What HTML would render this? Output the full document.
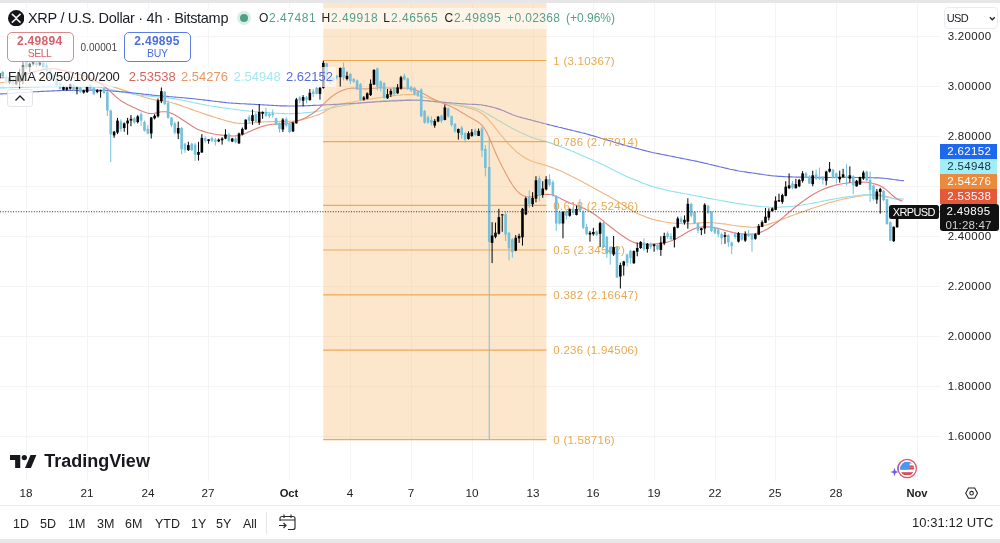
<!DOCTYPE html>
<html><head><meta charset="utf-8"><title>XRPUSD</title>
<style>
*{box-sizing:border-box;margin:0;padding:0}
html,body{width:1000px;height:543px;overflow:hidden;background:#fff}
body{font-family:"Liberation Sans",sans-serif;color:#131722;position:relative}
.abs{position:absolute}
.topbar{left:0;top:0;width:1000px;height:3.3px;background:#e6e6e8}
.botbar{left:0;top:539px;width:1000px;height:4px;background:#e8e8ea}
.plabel{position:absolute;left:940px;width:56.5px;height:14.5px;font-size:11.5px;line-height:14.5px;text-align:center;letter-spacing:.35px;padding-left:2px}
.ptick{position:absolute;left:941px;width:57px;font-size:11.5px;line-height:14px;text-align:center;color:#222;letter-spacing:.3px}
.tt{position:absolute;top:486.4px;font-size:11.7px;line-height:14px;color:#222;transform:translateX(-50%);white-space:nowrap}
.fib{position:absolute;left:553px;font-size:11.5px;line-height:13px;color:#e8a94f;white-space:nowrap;letter-spacing:.25px}
.ohlc{top:11px;font-size:12px;line-height:14px;white-space:nowrap;letter-spacing:.37px}
.ev{position:absolute;top:0}
.rb{position:absolute;top:516.8px;font-size:12.5px;line-height:15px;color:#222;white-space:nowrap}
#wrap{position:absolute;left:0;top:0;width:1000px;height:543px;will-change:transform;transform:translateZ(0)}
</style></head><body><div id="wrap">
<svg width="1000" height="543" viewBox="0 0 1000 543" style="position:absolute;left:0;top:0">
<g stroke="#f4f4f6" stroke-width="1"><line x1="0" x2="940" y1="36.5" y2="36.5"/><line x1="0" x2="940" y1="86.5" y2="86.5"/><line x1="0" x2="940" y1="136.5" y2="136.5"/><line x1="0" x2="940" y1="186.5" y2="186.5"/><line x1="0" x2="940" y1="236.5" y2="236.5"/><line x1="0" x2="940" y1="286.5" y2="286.5"/><line x1="0" x2="940" y1="336.5" y2="336.5"/><line x1="0" x2="940" y1="386.5" y2="386.5"/><line x1="0" x2="940" y1="436.5" y2="436.5"/><line y1="3" y2="481" x1="26.5" x2="26.5"/><line y1="3" y2="481" x1="87.5" x2="87.5"/><line y1="3" y2="481" x1="148.5" x2="148.5"/><line y1="3" y2="481" x1="208.5" x2="208.5"/><line y1="3" y2="481" x1="289.5" x2="289.5"/><line y1="3" y2="481" x1="350.5" x2="350.5"/><line y1="3" y2="481" x1="411.5" x2="411.5"/><line y1="3" y2="481" x1="472.5" x2="472.5"/><line y1="3" y2="481" x1="533.5" x2="533.5"/><line y1="3" y2="481" x1="593.5" x2="593.5"/><line y1="3" y2="481" x1="654.5" x2="654.5"/><line y1="3" y2="481" x1="715.5" x2="715.5"/><line y1="3" y2="481" x1="775.5" x2="775.5"/><line y1="3" y2="481" x1="836.5" x2="836.5"/><line y1="3" y2="481" x1="917.5" x2="917.5"/></g>
<g fill="none" stroke-width="1.15" stroke-linejoin="round">
<path d="M-2.0 82.8 L-0.5 82.8 L1.0 82.7 L2.5 82.5 L4.0 82.4 L5.5 82.3 L7.0 82.2 L8.5 82.0 L10.0 81.9 L11.5 81.7 L13.0 81.6 L14.5 81.5 L16.0 81.3 L17.5 81.2 L19.0 81.0 L20.5 80.9 L22.0 80.7 L23.5 80.6 L25.0 80.5 L26.5 80.3 L28.0 80.2 L29.5 80.0 L31.0 79.8 L32.5 79.7 L34.0 79.5 L35.5 79.3 L37.0 79.2 L38.5 79.0 L40.0 78.8 L41.5 78.6 L43.0 78.4 L44.5 78.3 L46.0 78.1 L47.5 77.9 L49.0 77.7 L50.5 77.6 L52.0 77.5 L53.5 77.4 L55.0 77.3 L56.5 77.2 L58.0 77.2 L59.5 77.2 L61.0 77.3 L62.5 77.3 L64.0 77.4 L65.5 77.4 L67.0 77.5 L68.5 77.5 L70.0 77.6 L71.5 77.7 L73.0 77.7 L74.5 77.8 L76.0 77.9 L77.5 78.1 L79.0 78.2 L80.5 78.4 L82.0 78.7 L83.5 79.0 L85.0 79.3 L86.5 79.6 L88.0 80.0 L89.5 80.3 L91.0 80.7 L92.5 81.1 L94.0 81.4 L95.5 81.8 L97.0 82.2 L98.5 82.6 L100.0 83.0 L101.5 83.4 L103.0 83.8 L104.5 84.3 L106.0 84.7 L107.5 85.1 L109.0 85.6 L110.5 86.0 L112.0 86.5 L113.5 87.0 L115.0 87.4 L116.5 87.9 L118.0 88.4 L119.5 88.9 L121.0 89.4 L122.5 89.9 L124.0 90.4 L125.5 90.9 L127.0 91.4 L128.5 92.0 L130.0 92.5 L131.5 93.0 L133.0 93.5 L134.5 94.0 L136.0 94.5 L137.5 95.0 L139.0 95.5 L140.5 96.0 L142.0 96.4 L143.5 96.9 L145.0 97.3 L146.5 97.8 L148.0 98.2 L149.5 98.6 L151.0 99.0 L152.5 99.4 L154.0 99.7 L155.5 99.9 L157.0 100.1 L158.5 100.3 L160.0 100.5 L161.5 100.7 L163.0 100.8 L164.5 101.1 L166.0 101.3 L167.5 101.6 L169.0 102.0 L170.5 102.3 L172.0 102.7 L173.5 103.2 L175.0 103.6 L176.5 104.1 L178.0 104.6 L179.5 105.1 L181.0 105.6 L182.5 106.2 L184.0 106.7 L185.5 107.3 L187.0 107.8 L188.5 108.3 L190.0 108.9 L191.5 109.4 L193.0 109.9 L194.5 110.5 L196.0 111.0 L197.5 111.5 L199.0 112.0 L200.5 112.5 L202.0 113.1 L203.5 113.6 L205.0 114.1 L206.5 114.6 L208.0 115.1 L209.5 115.6 L211.0 116.1 L212.5 116.6 L214.0 117.0 L215.5 117.5 L217.0 118.0 L218.5 118.4 L220.0 118.9 L221.5 119.3 L223.0 119.8 L224.5 120.2 L226.0 120.7 L227.5 121.1 L229.0 121.5 L230.5 121.9 L232.0 122.3 L233.5 122.6 L235.0 122.9 L236.5 123.1 L238.0 123.3 L239.5 123.4 L241.0 123.5 L242.5 123.5 L244.0 123.5 L245.5 123.4 L247.0 123.3 L248.5 123.2 L250.0 123.1 L251.5 123.0 L253.0 122.8 L254.5 122.7 L256.0 122.5 L257.5 122.4 L259.0 122.3 L260.5 122.1 L262.0 122.0 L263.5 121.9 L265.0 121.8 L266.5 121.7 L268.0 121.7 L269.5 121.6 L271.0 121.6 L272.5 121.6 L274.0 121.6 L275.5 121.6 L277.0 121.6 L278.5 121.6 L280.0 121.6 L281.5 121.6 L283.0 121.5 L284.5 121.5 L286.0 121.5 L287.5 121.4 L289.0 121.4 L290.5 121.3 L292.0 121.2 L293.5 121.1 L295.0 121.0 L296.5 120.8 L298.0 120.6 L299.5 120.3 L301.0 119.9 L302.5 119.6 L304.0 119.2 L305.5 118.8 L307.0 118.3 L308.5 117.9 L310.0 117.5 L311.5 117.0 L313.0 116.5 L314.5 116.0 L316.0 115.5 L317.5 115.0 L319.0 114.4 L320.5 113.7 L322.0 113.0 L323.5 112.2 L325.0 111.4 L326.5 110.5 L328.0 109.6 L329.5 108.7 L331.0 107.9 L332.5 107.1 L334.0 106.3 L335.5 105.7 L337.0 105.1 L338.5 104.6 L340.0 104.3 L341.5 103.9 L343.0 103.6 L344.5 103.3 L346.0 103.0 L347.5 102.8 L349.0 102.5 L350.5 102.2 L352.0 102.0 L353.5 101.7 L355.0 101.5 L356.5 101.2 L358.0 101.0 L359.5 100.7 L361.0 100.5 L362.5 100.3 L364.0 100.0 L365.5 99.8 L367.0 99.6 L368.5 99.3 L370.0 99.1 L371.5 98.9 L373.0 98.6 L374.5 98.4 L376.0 98.2 L377.5 97.9 L379.0 97.7 L380.5 97.5 L382.0 97.2 L383.5 97.0 L385.0 96.8 L386.5 96.6 L388.0 96.4 L389.5 96.2 L391.0 96.0 L392.5 95.8 L394.0 95.6 L395.5 95.5 L397.0 95.3 L398.5 95.2 L400.0 95.1 L401.5 94.9 L403.0 94.8 L404.5 94.7 L406.0 94.6 L407.5 94.6 L409.0 94.5 L410.5 94.6 L412.0 94.6 L413.5 94.7 L415.0 94.9 L416.5 95.1 L418.0 95.4 L419.5 95.7 L421.0 96.1 L422.5 96.5 L424.0 97.0 L425.5 97.4 L427.0 97.8 L428.5 98.3 L430.0 98.7 L431.5 99.2 L433.0 99.6 L434.5 100.1 L436.0 100.5 L437.5 100.9 L439.0 101.4 L440.5 101.8 L442.0 102.2 L443.5 102.6 L445.0 103.0 L446.5 103.3 L448.0 103.6 L449.5 103.9 L451.0 104.2 L452.5 104.5 L454.0 104.8 L455.5 105.1 L457.0 105.3 L458.5 105.7 L460.0 106.0 L461.5 106.3 L463.0 106.7 L464.5 107.0 L466.0 107.4 L467.5 107.7 L469.0 108.1 L470.5 108.5 L472.0 108.9 L473.5 109.4 L475.0 110.0 L476.5 110.6 L478.0 111.3 L479.5 112.1 L481.0 113.0 L482.5 114.0 L484.0 115.2 L485.5 116.5 L487.0 118.0 L488.5 119.6 L490.0 121.3 L491.5 123.1 L493.0 125.0 L494.5 126.9 L496.0 128.8 L497.5 130.7 L499.0 132.6 L500.5 134.5 L502.0 136.3 L503.5 138.1 L505.0 139.9 L506.5 141.6 L508.0 143.3 L509.5 144.9 L511.0 146.5 L512.5 148.0 L514.0 149.4 L515.5 150.8 L517.0 152.1 L518.5 153.3 L520.0 154.4 L521.5 155.5 L523.0 156.5 L524.5 157.5 L526.0 158.3 L527.5 159.2 L529.0 159.9 L530.5 160.6 L532.0 161.2 L533.5 161.8 L535.0 162.3 L536.5 162.8 L538.0 163.2 L539.5 163.6 L541.0 164.0 L542.5 164.5 L544.0 164.9 L545.5 165.3 L547.0 165.8 L548.5 166.3 L550.0 166.8 L551.5 167.4 L553.0 167.9 L554.5 168.5 L556.0 169.0 L557.5 169.6 L559.0 170.2 L560.5 170.9 L562.0 171.5 L563.5 172.2 L565.0 172.9 L566.5 173.7 L568.0 174.4 L569.5 175.2 L571.0 175.9 L572.5 176.7 L574.0 177.4 L575.5 178.2 L577.0 179.0 L578.5 179.8 L580.0 180.5 L581.5 181.3 L583.0 182.1 L584.5 183.0 L586.0 183.8 L587.5 184.6 L589.0 185.4 L590.5 186.3 L592.0 187.1 L593.5 187.9 L595.0 188.7 L596.5 189.6 L598.0 190.4 L599.5 191.2 L601.0 192.0 L602.5 192.9 L604.0 193.7 L605.5 194.5 L607.0 195.3 L608.5 196.1 L610.0 197.0 L611.5 197.8 L613.0 198.7 L614.5 199.5 L616.0 200.4 L617.5 201.3 L619.0 202.3 L620.5 203.2 L622.0 204.2 L623.5 205.2 L625.0 206.2 L626.5 207.2 L628.0 208.1 L629.5 209.1 L631.0 210.0 L632.5 210.9 L634.0 211.7 L635.5 212.5 L637.0 213.2 L638.5 213.9 L640.0 214.5 L641.5 215.2 L643.0 215.8 L644.5 216.4 L646.0 217.0 L647.5 217.6 L649.0 218.1 L650.5 218.6 L652.0 219.1 L653.5 219.5 L655.0 219.9 L656.5 220.3 L658.0 220.6 L659.5 220.9 L661.0 221.2 L662.5 221.5 L664.0 221.8 L665.5 222.0 L667.0 222.3 L668.5 222.5 L670.0 222.7 L671.5 222.9 L673.0 223.0 L674.5 223.2 L676.0 223.3 L677.5 223.4 L679.0 223.5 L680.5 223.5 L682.0 223.6 L683.5 223.7 L685.0 223.7 L686.5 223.7 L688.0 223.7 L689.5 223.7 L691.0 223.7 L692.5 223.6 L694.0 223.5 L695.5 223.3 L697.0 223.2 L698.5 223.1 L700.0 222.9 L701.5 222.8 L703.0 222.7 L704.5 222.6 L706.0 222.6 L707.5 222.5 L709.0 222.6 L710.5 222.6 L712.0 222.7 L713.5 222.8 L715.0 223.0 L716.5 223.1 L718.0 223.3 L719.5 223.4 L721.0 223.6 L722.5 223.7 L724.0 223.9 L725.5 224.1 L727.0 224.3 L728.5 224.6 L730.0 224.8 L731.5 225.1 L733.0 225.3 L734.5 225.5 L736.0 225.7 L737.5 226.0 L739.0 226.1 L740.5 226.3 L742.0 226.5 L743.5 226.6 L745.0 226.8 L746.5 226.9 L748.0 227.0 L749.5 227.1 L751.0 227.2 L752.5 227.2 L754.0 227.2 L755.5 227.1 L757.0 226.9 L758.5 226.7 L760.0 226.5 L761.5 226.2 L763.0 225.8 L764.5 225.4 L766.0 225.0 L767.5 224.6 L769.0 224.1 L770.5 223.6 L772.0 223.1 L773.5 222.6 L775.0 222.1 L776.5 221.5 L778.0 220.9 L779.5 220.4 L781.0 219.8 L782.5 219.2 L784.0 218.6 L785.5 218.0 L787.0 217.5 L788.5 216.9 L790.0 216.3 L791.5 215.8 L793.0 215.2 L794.5 214.7 L796.0 214.1 L797.5 213.6 L799.0 213.1 L800.5 212.5 L802.0 212.0 L803.5 211.5 L805.0 211.0 L806.5 210.4 L808.0 209.9 L809.5 209.4 L811.0 208.8 L812.5 208.3 L814.0 207.8 L815.5 207.3 L817.0 206.7 L818.5 206.2 L820.0 205.7 L821.5 205.2 L823.0 204.7 L824.5 204.2 L826.0 203.7 L827.5 203.2 L829.0 202.8 L830.5 202.4 L832.0 202.0 L833.5 201.6 L835.0 201.2 L836.5 200.8 L838.0 200.4 L839.5 200.0 L841.0 199.7 L842.5 199.3 L844.0 199.0 L845.5 198.6 L847.0 198.3 L848.5 198.0 L850.0 197.7 L851.5 197.4 L853.0 197.2 L854.5 196.9 L856.0 196.6 L857.5 196.3 L859.0 196.1 L860.5 195.9 L862.0 195.6 L863.5 195.4 L865.0 195.2 L866.5 195.1 L868.0 195.0 L869.5 194.9 L871.0 194.8 L872.5 194.8 L874.0 194.8 L875.5 194.8 L877.0 194.8 L878.5 194.9 L880.0 195.1 L881.5 195.3 L883.0 195.5 L884.5 195.8 L886.0 196.2 L887.5 196.6 L889.0 197.0 L890.5 197.5 L892.0 198.0 L893.5 198.4 L895.0 198.8 L896.5 199.2 L898.0 199.5 L899.5 199.8 L901.0 200.1 L902.5 200.3" stroke="#f1b580"/>
<path d="M-2.0 87.9 L-0.5 87.9 L1.0 87.9 L2.5 87.9 L4.0 87.8 L5.5 87.8 L7.0 87.7 L8.5 87.7 L10.0 87.7 L11.5 87.6 L13.0 87.6 L14.5 87.5 L16.0 87.5 L17.5 87.4 L19.0 87.4 L20.5 87.4 L22.0 87.3 L23.5 87.3 L25.0 87.2 L26.5 87.2 L28.0 87.1 L29.5 87.1 L31.0 87.0 L32.5 87.0 L34.0 87.0 L35.5 86.9 L37.0 86.9 L38.5 86.8 L40.0 86.8 L41.5 86.7 L43.0 86.7 L44.5 86.7 L46.0 86.6 L47.5 86.6 L49.0 86.6 L50.5 86.6 L52.0 86.6 L53.5 86.6 L55.0 86.6 L56.5 86.6 L58.0 86.6 L59.5 86.6 L61.0 86.6 L62.5 86.6 L64.0 86.6 L65.5 86.7 L67.0 86.7 L68.5 86.7 L70.0 86.7 L71.5 86.7 L73.0 86.7 L74.5 86.7 L76.0 86.8 L77.5 86.8 L79.0 86.8 L80.5 86.8 L82.0 86.8 L83.5 86.8 L85.0 86.9 L86.5 86.9 L88.0 86.9 L89.5 86.9 L91.0 86.9 L92.5 86.9 L94.0 87.0 L95.5 87.0 L97.0 87.1 L98.5 87.2 L100.0 87.4 L101.5 87.6 L103.0 87.8 L104.5 88.1 L106.0 88.4 L107.5 88.7 L109.0 89.0 L110.5 89.3 L112.0 89.7 L113.5 90.0 L115.0 90.3 L116.5 90.7 L118.0 91.0 L119.5 91.3 L121.0 91.6 L122.5 91.9 L124.0 92.3 L125.5 92.6 L127.0 92.9 L128.5 93.2 L130.0 93.5 L131.5 93.8 L133.0 94.1 L134.5 94.4 L136.0 94.6 L137.5 94.9 L139.0 95.1 L140.5 95.3 L142.0 95.4 L143.5 95.6 L145.0 95.7 L146.5 95.9 L148.0 96.0 L149.5 96.2 L151.0 96.3 L152.5 96.5 L154.0 96.6 L155.5 96.8 L157.0 96.9 L158.5 97.0 L160.0 97.2 L161.5 97.3 L163.0 97.5 L164.5 97.6 L166.0 97.8 L167.5 97.9 L169.0 98.1 L170.5 98.2 L172.0 98.4 L173.5 98.6 L175.0 98.9 L176.5 99.1 L178.0 99.4 L179.5 99.7 L181.0 100.0 L182.5 100.3 L184.0 100.6 L185.5 100.9 L187.0 101.2 L188.5 101.5 L190.0 101.8 L191.5 102.1 L193.0 102.5 L194.5 102.8 L196.0 103.1 L197.5 103.4 L199.0 103.7 L200.5 104.0 L202.0 104.3 L203.5 104.6 L205.0 104.9 L206.5 105.2 L208.0 105.5 L209.5 105.8 L211.0 106.0 L212.5 106.3 L214.0 106.5 L215.5 106.7 L217.0 106.9 L218.5 107.1 L220.0 107.4 L221.5 107.6 L223.0 107.8 L224.5 108.0 L226.0 108.2 L227.5 108.4 L229.0 108.6 L230.5 108.8 L232.0 109.0 L233.5 109.2 L235.0 109.4 L236.5 109.6 L238.0 109.8 L239.5 110.0 L241.0 110.2 L242.5 110.4 L244.0 110.6 L245.5 110.7 L247.0 110.9 L248.5 111.0 L250.0 111.2 L251.5 111.3 L253.0 111.4 L254.5 111.6 L256.0 111.7 L257.5 111.8 L259.0 111.9 L260.5 112.0 L262.0 112.1 L263.5 112.2 L265.0 112.4 L266.5 112.5 L268.0 112.6 L269.5 112.7 L271.0 112.8 L272.5 112.9 L274.0 113.0 L275.5 113.2 L277.0 113.3 L278.5 113.4 L280.0 113.5 L281.5 113.5 L283.0 113.6 L284.5 113.6 L286.0 113.7 L287.5 113.7 L289.0 113.7 L290.5 113.6 L292.0 113.6 L293.5 113.6 L295.0 113.5 L296.5 113.4 L298.0 113.4 L299.5 113.3 L301.0 113.2 L302.5 113.0 L304.0 112.9 L305.5 112.8 L307.0 112.6 L308.5 112.5 L310.0 112.3 L311.5 112.2 L313.0 112.0 L314.5 111.8 L316.0 111.6 L317.5 111.3 L319.0 111.0 L320.5 110.7 L322.0 110.3 L323.5 110.0 L325.0 109.6 L326.5 109.2 L328.0 108.8 L329.5 108.5 L331.0 108.1 L332.5 107.7 L334.0 107.4 L335.5 107.1 L337.0 106.8 L338.5 106.5 L340.0 106.2 L341.5 105.9 L343.0 105.7 L344.5 105.4 L346.0 105.2 L347.5 104.9 L349.0 104.7 L350.5 104.4 L352.0 104.2 L353.5 104.0 L355.0 103.7 L356.5 103.5 L358.0 103.3 L359.5 103.1 L361.0 103.0 L362.5 102.8 L364.0 102.6 L365.5 102.4 L367.0 102.2 L368.5 102.1 L370.0 101.9 L371.5 101.8 L373.0 101.6 L374.5 101.5 L376.0 101.4 L377.5 101.3 L379.0 101.2 L380.5 101.1 L382.0 101.0 L383.5 100.9 L385.0 100.8 L386.5 100.7 L388.0 100.6 L389.5 100.6 L391.0 100.5 L392.5 100.4 L394.0 100.3 L395.5 100.2 L397.0 100.1 L398.5 100.0 L400.0 99.9 L401.5 99.9 L403.0 99.8 L404.5 99.7 L406.0 99.7 L407.5 99.6 L409.0 99.6 L410.5 99.6 L412.0 99.7 L413.5 99.7 L415.0 99.8 L416.5 99.9 L418.0 100.0 L419.5 100.1 L421.0 100.2 L422.5 100.3 L424.0 100.5 L425.5 100.6 L427.0 100.7 L428.5 100.9 L430.0 101.1 L431.5 101.3 L433.0 101.5 L434.5 101.7 L436.0 101.9 L437.5 102.1 L439.0 102.4 L440.5 102.6 L442.0 102.8 L443.5 103.0 L445.0 103.2 L446.5 103.5 L448.0 103.7 L449.5 103.9 L451.0 104.1 L452.5 104.3 L454.0 104.6 L455.5 104.8 L457.0 105.0 L458.5 105.2 L460.0 105.4 L461.5 105.6 L463.0 105.9 L464.5 106.1 L466.0 106.3 L467.5 106.6 L469.0 106.8 L470.5 107.1 L472.0 107.4 L473.5 107.7 L475.0 108.1 L476.5 108.6 L478.0 109.1 L479.5 109.8 L481.0 110.5 L482.5 111.3 L484.0 112.1 L485.5 112.9 L487.0 113.8 L488.5 114.6 L490.0 115.5 L491.5 116.4 L493.0 117.3 L494.5 118.1 L496.0 119.0 L497.5 119.9 L499.0 120.7 L500.5 121.6 L502.0 122.5 L503.5 123.4 L505.0 124.2 L506.5 125.1 L508.0 126.0 L509.5 126.8 L511.0 127.7 L512.5 128.5 L514.0 129.3 L515.5 130.1 L517.0 130.8 L518.5 131.5 L520.0 132.2 L521.5 132.9 L523.0 133.6 L524.5 134.3 L526.0 135.0 L527.5 135.7 L529.0 136.3 L530.5 136.9 L532.0 137.4 L533.5 138.0 L535.0 138.4 L536.5 138.9 L538.0 139.3 L539.5 139.7 L541.0 140.1 L542.5 140.6 L544.0 141.0 L545.5 141.4 L547.0 141.9 L548.5 142.4 L550.0 142.9 L551.5 143.4 L553.0 143.9 L554.5 144.5 L556.0 145.0 L557.5 145.6 L559.0 146.1 L560.5 146.6 L562.0 147.2 L563.5 147.7 L565.0 148.3 L566.5 148.9 L568.0 149.4 L569.5 150.0 L571.0 150.7 L572.5 151.3 L574.0 151.9 L575.5 152.6 L577.0 153.2 L578.5 153.9 L580.0 154.5 L581.5 155.2 L583.0 155.9 L584.5 156.5 L586.0 157.2 L587.5 157.9 L589.0 158.5 L590.5 159.2 L592.0 159.8 L593.5 160.5 L595.0 161.2 L596.5 161.8 L598.0 162.5 L599.5 163.1 L601.0 163.8 L602.5 164.5 L604.0 165.2 L605.5 165.9 L607.0 166.6 L608.5 167.4 L610.0 168.2 L611.5 168.9 L613.0 169.7 L614.5 170.5 L616.0 171.3 L617.5 172.1 L619.0 172.8 L620.5 173.6 L622.0 174.3 L623.5 175.0 L625.0 175.7 L626.5 176.4 L628.0 177.1 L629.5 177.7 L631.0 178.3 L632.5 178.9 L634.0 179.5 L635.5 180.1 L637.0 180.7 L638.5 181.4 L640.0 182.0 L641.5 182.6 L643.0 183.2 L644.5 183.7 L646.0 184.3 L647.5 184.9 L649.0 185.4 L650.5 185.9 L652.0 186.4 L653.5 186.8 L655.0 187.2 L656.5 187.6 L658.0 188.0 L659.5 188.4 L661.0 188.7 L662.5 189.1 L664.0 189.5 L665.5 189.9 L667.0 190.2 L668.5 190.6 L670.0 190.9 L671.5 191.2 L673.0 191.5 L674.5 191.8 L676.0 192.1 L677.5 192.4 L679.0 192.7 L680.5 192.9 L682.0 193.2 L683.5 193.5 L685.0 193.8 L686.5 194.0 L688.0 194.3 L689.5 194.6 L691.0 194.9 L692.5 195.2 L694.0 195.5 L695.5 195.8 L697.0 196.1 L698.5 196.3 L700.0 196.6 L701.5 196.9 L703.0 197.2 L704.5 197.5 L706.0 197.8 L707.5 198.1 L709.0 198.4 L710.5 198.6 L712.0 198.9 L713.5 199.2 L715.0 199.5 L716.5 199.7 L718.0 200.0 L719.5 200.3 L721.0 200.6 L722.5 200.8 L724.0 201.1 L725.5 201.4 L727.0 201.6 L728.5 201.9 L730.0 202.2 L731.5 202.4 L733.0 202.7 L734.5 202.9 L736.0 203.2 L737.5 203.4 L739.0 203.7 L740.5 203.9 L742.0 204.1 L743.5 204.4 L745.0 204.6 L746.5 204.8 L748.0 205.0 L749.5 205.2 L751.0 205.4 L752.5 205.6 L754.0 205.7 L755.5 205.9 L757.0 206.1 L758.5 206.3 L760.0 206.4 L761.5 206.6 L763.0 206.7 L764.5 206.8 L766.0 206.9 L767.5 207.0 L769.0 207.1 L770.5 207.2 L772.0 207.3 L773.5 207.3 L775.0 207.3 L776.5 207.3 L778.0 207.2 L779.5 207.2 L781.0 207.1 L782.5 207.0 L784.0 206.9 L785.5 206.9 L787.0 206.8 L788.5 206.6 L790.0 206.5 L791.5 206.4 L793.0 206.2 L794.5 206.0 L796.0 205.8 L797.5 205.6 L799.0 205.4 L800.5 205.2 L802.0 205.0 L803.5 204.7 L805.0 204.5 L806.5 204.3 L808.0 204.0 L809.5 203.8 L811.0 203.5 L812.5 203.2 L814.0 202.9 L815.5 202.6 L817.0 202.3 L818.5 202.0 L820.0 201.7 L821.5 201.4 L823.0 201.1 L824.5 200.8 L826.0 200.5 L827.5 200.2 L829.0 199.9 L830.5 199.6 L832.0 199.4 L833.5 199.1 L835.0 198.8 L836.5 198.6 L838.0 198.3 L839.5 198.1 L841.0 197.8 L842.5 197.6 L844.0 197.4 L845.5 197.1 L847.0 196.9 L848.5 196.7 L850.0 196.5 L851.5 196.3 L853.0 196.1 L854.5 195.9 L856.0 195.7 L857.5 195.6 L859.0 195.4 L860.5 195.2 L862.0 195.1 L863.5 194.9 L865.0 194.8 L866.5 194.8 L868.0 194.7 L869.5 194.7 L871.0 194.8 L872.5 194.8 L874.0 195.0 L875.5 195.1 L877.0 195.3 L878.5 195.6 L880.0 195.9 L881.5 196.2 L883.0 196.5 L884.5 196.8 L886.0 197.1 L887.5 197.4 L889.0 197.8 L890.5 198.0 L892.0 198.3 L893.5 198.5 L895.0 198.7 L896.5 198.8 L898.0 198.9 L899.5 198.9 L901.0 199.0 L902.5 199.0 L904.0 199.0" stroke="#92e2ee"/>
<path d="M-2.0 94.1 L-0.5 94.0 L1.0 93.9 L2.5 93.9 L4.0 93.8 L5.5 93.7 L7.0 93.6 L8.5 93.5 L10.0 93.4 L11.5 93.3 L13.0 93.2 L14.5 93.1 L16.0 93.0 L17.5 92.9 L19.0 92.8 L20.5 92.7 L22.0 92.6 L23.5 92.4 L25.0 92.3 L26.5 92.3 L28.0 92.2 L29.5 92.1 L31.0 92.0 L32.5 91.9 L34.0 91.8 L35.5 91.7 L37.0 91.7 L38.5 91.6 L40.0 91.5 L41.5 91.4 L43.0 91.4 L44.5 91.3 L46.0 91.2 L47.5 91.1 L49.0 91.1 L50.5 91.0 L52.0 90.9 L53.5 90.8 L55.0 90.8 L56.5 90.7 L58.0 90.6 L59.5 90.6 L61.0 90.5 L62.5 90.5 L64.0 90.5 L65.5 90.4 L67.0 90.4 L68.5 90.4 L70.0 90.4 L71.5 90.4 L73.0 90.3 L74.5 90.3 L76.0 90.3 L77.5 90.3 L79.0 90.3 L80.5 90.2 L82.0 90.2 L83.5 90.2 L85.0 90.2 L86.5 90.2 L88.0 90.2 L89.5 90.1 L91.0 90.1 L92.5 90.1 L94.0 90.1 L95.5 90.1 L97.0 90.1 L98.5 90.1 L100.0 90.2 L101.5 90.2 L103.0 90.3 L104.5 90.4 L106.0 90.5 L107.5 90.6 L109.0 90.8 L110.5 90.9 L112.0 91.0 L113.5 91.1 L115.0 91.3 L116.5 91.4 L118.0 91.5 L119.5 91.6 L121.0 91.8 L122.5 91.9 L124.0 92.0 L125.5 92.1 L127.0 92.3 L128.5 92.4 L130.0 92.6 L131.5 92.7 L133.0 92.9 L134.5 93.0 L136.0 93.2 L137.5 93.4 L139.0 93.5 L140.5 93.7 L142.0 93.9 L143.5 94.1 L145.0 94.2 L146.5 94.4 L148.0 94.6 L149.5 94.8 L151.0 94.9 L152.5 95.1 L154.0 95.2 L155.5 95.4 L157.0 95.5 L158.5 95.7 L160.0 95.8 L161.5 95.9 L163.0 96.1 L164.5 96.2 L166.0 96.3 L167.5 96.4 L169.0 96.6 L170.5 96.7 L172.0 96.8 L173.5 97.0 L175.0 97.1 L176.5 97.2 L178.0 97.3 L179.5 97.5 L181.0 97.6 L182.5 97.7 L184.0 97.8 L185.5 98.0 L187.0 98.1 L188.5 98.2 L190.0 98.4 L191.5 98.5 L193.0 98.7 L194.5 98.8 L196.0 99.0 L197.5 99.2 L199.0 99.4 L200.5 99.5 L202.0 99.7 L203.5 99.9 L205.0 100.1 L206.5 100.3 L208.0 100.4 L209.5 100.6 L211.0 100.8 L212.5 101.0 L214.0 101.2 L215.5 101.4 L217.0 101.5 L218.5 101.7 L220.0 101.9 L221.5 102.1 L223.0 102.3 L224.5 102.4 L226.0 102.6 L227.5 102.7 L229.0 102.9 L230.5 103.0 L232.0 103.1 L233.5 103.2 L235.0 103.3 L236.5 103.4 L238.0 103.5 L239.5 103.6 L241.0 103.7 L242.5 103.7 L244.0 103.8 L245.5 103.9 L247.0 104.0 L248.5 104.1 L250.0 104.1 L251.5 104.2 L253.0 104.3 L254.5 104.4 L256.0 104.5 L257.5 104.6 L259.0 104.6 L260.5 104.7 L262.0 104.8 L263.5 104.9 L265.0 105.0 L266.5 105.0 L268.0 105.1 L269.5 105.2 L271.0 105.3 L272.5 105.4 L274.0 105.5 L275.5 105.5 L277.0 105.6 L278.5 105.7 L280.0 105.8 L281.5 105.8 L283.0 105.9 L284.5 105.9 L286.0 105.9 L287.5 106.0 L289.0 106.0 L290.5 106.0 L292.0 106.0 L293.5 106.0 L295.0 106.0 L296.5 106.0 L298.0 106.0 L299.5 105.9 L301.0 105.9 L302.5 105.9 L304.0 105.8 L305.5 105.8 L307.0 105.7 L308.5 105.6 L310.0 105.6 L311.5 105.5 L313.0 105.4 L314.5 105.4 L316.0 105.3 L317.5 105.2 L319.0 105.2 L320.5 105.1 L322.0 105.0 L323.5 105.0 L325.0 104.9 L326.5 104.8 L328.0 104.7 L329.5 104.7 L331.0 104.6 L332.5 104.5 L334.0 104.4 L335.5 104.4 L337.0 104.3 L338.5 104.2 L340.0 104.1 L341.5 104.0 L343.0 104.0 L344.5 103.9 L346.0 103.8 L347.5 103.7 L349.0 103.7 L350.5 103.6 L352.0 103.5 L353.5 103.4 L355.0 103.3 L356.5 103.2 L358.0 103.1 L359.5 103.0 L361.0 102.9 L362.5 102.8 L364.0 102.7 L365.5 102.6 L367.0 102.5 L368.5 102.4 L370.0 102.3 L371.5 102.2 L373.0 102.1 L374.5 102.0 L376.0 101.9 L377.5 101.8 L379.0 101.7 L380.5 101.6 L382.0 101.5 L383.5 101.4 L385.0 101.3 L386.5 101.3 L388.0 101.2 L389.5 101.1 L391.0 101.0 L392.5 100.9 L394.0 100.9 L395.5 100.8 L397.0 100.8 L398.5 100.7 L400.0 100.6 L401.5 100.6 L403.0 100.5 L404.5 100.5 L406.0 100.4 L407.5 100.4 L409.0 100.3 L410.5 100.3 L412.0 100.2 L413.5 100.2 L415.0 100.2 L416.5 100.2 L418.0 100.2 L419.5 100.3 L421.0 100.4 L422.5 100.4 L424.0 100.6 L425.5 100.7 L427.0 100.8 L428.5 100.9 L430.0 101.1 L431.5 101.2 L433.0 101.3 L434.5 101.5 L436.0 101.6 L437.5 101.7 L439.0 101.9 L440.5 102.0 L442.0 102.1 L443.5 102.3 L445.0 102.4 L446.5 102.5 L448.0 102.7 L449.5 102.8 L451.0 102.9 L452.5 103.0 L454.0 103.2 L455.5 103.3 L457.0 103.4 L458.5 103.5 L460.0 103.6 L461.5 103.8 L463.0 103.8 L464.5 103.9 L466.0 104.0 L467.5 104.1 L469.0 104.2 L470.5 104.2 L472.0 104.3 L473.5 104.3 L475.0 104.4 L476.5 104.5 L478.0 104.6 L479.5 104.7 L481.0 104.8 L482.5 105.1 L484.0 105.3 L485.5 105.6 L487.0 105.9 L488.5 106.2 L490.0 106.6 L491.5 106.9 L493.0 107.3 L494.5 107.7 L496.0 108.1 L497.5 108.6 L499.0 109.1 L500.5 109.6 L502.0 110.2 L503.5 110.8 L505.0 111.4 L506.5 112.1 L508.0 112.7 L509.5 113.4 L511.0 114.0 L512.5 114.7 L514.0 115.2 L515.5 115.8 L517.0 116.2 L518.5 116.7 L520.0 117.1 L521.5 117.6 L523.0 118.0 L524.5 118.4 L526.0 118.7 L527.5 119.1 L529.0 119.5 L530.5 119.9 L532.0 120.3 L533.5 120.7 L535.0 121.1 L536.5 121.5 L538.0 121.9 L539.5 122.3 L541.0 122.7 L542.5 123.1 L544.0 123.5 L545.5 123.8 L547.0 124.2 L548.5 124.6 L550.0 125.0 L551.5 125.3 L553.0 125.7 L554.5 126.1 L556.0 126.4 L557.5 126.8 L559.0 127.2 L560.5 127.5 L562.0 127.9 L563.5 128.3 L565.0 128.6 L566.5 129.0 L568.0 129.4 L569.5 129.7 L571.0 130.1 L572.5 130.5 L574.0 130.8 L575.5 131.2 L577.0 131.6 L578.5 131.9 L580.0 132.3 L581.5 132.7 L583.0 133.0 L584.5 133.4 L586.0 133.8 L587.5 134.2 L589.0 134.6 L590.5 135.1 L592.0 135.5 L593.5 135.9 L595.0 136.4 L596.5 136.8 L598.0 137.3 L599.5 137.7 L601.0 138.2 L602.5 138.6 L604.0 139.1 L605.5 139.5 L607.0 139.9 L608.5 140.4 L610.0 140.8 L611.5 141.3 L613.0 141.7 L614.5 142.2 L616.0 142.6 L617.5 143.1 L619.0 143.5 L620.5 143.9 L622.0 144.4 L623.5 144.8 L625.0 145.2 L626.5 145.7 L628.0 146.1 L629.5 146.5 L631.0 146.9 L632.5 147.3 L634.0 147.7 L635.5 148.1 L637.0 148.5 L638.5 148.9 L640.0 149.3 L641.5 149.7 L643.0 150.1 L644.5 150.5 L646.0 150.9 L647.5 151.3 L649.0 151.6 L650.5 152.0 L652.0 152.3 L653.5 152.7 L655.0 153.0 L656.5 153.3 L658.0 153.6 L659.5 153.9 L661.0 154.2 L662.5 154.5 L664.0 154.8 L665.5 155.1 L667.0 155.4 L668.5 155.7 L670.0 156.0 L671.5 156.3 L673.0 156.6 L674.5 156.9 L676.0 157.2 L677.5 157.5 L679.0 157.8 L680.5 158.1 L682.0 158.4 L683.5 158.7 L685.0 159.0 L686.5 159.3 L688.0 159.6 L689.5 159.9 L691.0 160.2 L692.5 160.5 L694.0 160.8 L695.5 161.1 L697.0 161.4 L698.5 161.7 L700.0 162.1 L701.5 162.4 L703.0 162.7 L704.5 163.1 L706.0 163.4 L707.5 163.8 L709.0 164.2 L710.5 164.5 L712.0 164.9 L713.5 165.2 L715.0 165.6 L716.5 165.9 L718.0 166.3 L719.5 166.7 L721.0 167.0 L722.5 167.4 L724.0 167.7 L725.5 168.1 L727.0 168.4 L728.5 168.8 L730.0 169.2 L731.5 169.5 L733.0 169.8 L734.5 170.1 L736.0 170.4 L737.5 170.7 L739.0 171.0 L740.5 171.2 L742.0 171.5 L743.5 171.7 L745.0 171.9 L746.5 172.1 L748.0 172.4 L749.5 172.6 L751.0 172.8 L752.5 173.0 L754.0 173.2 L755.5 173.4 L757.0 173.7 L758.5 173.9 L760.0 174.1 L761.5 174.3 L763.0 174.5 L764.5 174.8 L766.0 175.0 L767.5 175.2 L769.0 175.4 L770.5 175.6 L772.0 175.7 L773.5 175.9 L775.0 176.0 L776.5 176.1 L778.0 176.3 L779.5 176.3 L781.0 176.4 L782.5 176.5 L784.0 176.6 L785.5 176.7 L787.0 176.8 L788.5 176.8 L790.0 176.9 L791.5 176.9 L793.0 177.0 L794.5 177.0 L796.0 177.1 L797.5 177.1 L799.0 177.1 L800.5 177.1 L802.0 177.1 L803.5 177.2 L805.0 177.2 L806.5 177.2 L808.0 177.2 L809.5 177.3 L811.0 177.3 L812.5 177.3 L814.0 177.3 L815.5 177.3 L817.0 177.4 L818.5 177.4 L820.0 177.4 L821.5 177.4 L823.0 177.4 L824.5 177.4 L826.0 177.5 L827.5 177.5 L829.0 177.5 L830.5 177.5 L832.0 177.5 L833.5 177.5 L835.0 177.5 L836.5 177.5 L838.0 177.5 L839.5 177.5 L841.0 177.5 L842.5 177.5 L844.0 177.5 L845.5 177.5 L847.0 177.5 L848.5 177.5 L850.0 177.5 L851.5 177.5 L853.0 177.5 L854.5 177.5 L856.0 177.5 L857.5 177.5 L859.0 177.5 L860.5 177.5 L862.0 177.5 L863.5 177.5 L865.0 177.5 L866.5 177.6 L868.0 177.6 L869.5 177.6 L871.0 177.7 L872.5 177.7 L874.0 177.8 L875.5 177.8 L877.0 177.9 L878.5 177.9 L880.0 178.0 L881.5 178.1 L883.0 178.2 L884.5 178.3 L886.0 178.5 L887.5 178.7 L889.0 178.9 L890.5 179.1 L892.0 179.3 L893.5 179.5 L895.0 179.7 L896.5 179.9 L898.0 180.1 L899.5 180.3 L901.0 180.5 L902.5 180.6 L904.0 180.7" stroke="#6872dc"/>
<path d="M-2.0 77.9 L-0.5 77.8 L1.0 77.8 L2.5 77.7 L4.0 77.6 L5.5 77.5 L7.0 77.5 L8.5 77.4 L10.0 77.2 L11.5 77.1 L13.0 76.9 L14.5 76.7 L16.0 76.5 L17.5 76.2 L19.0 75.9 L20.5 75.6 L22.0 75.2 L23.5 74.8 L25.0 74.4 L26.5 74.0 L28.0 73.6 L29.5 73.2 L31.0 72.7 L32.5 72.3 L34.0 71.9 L35.5 71.4 L37.0 71.0 L38.5 70.6 L40.0 70.3 L41.5 69.9 L43.0 69.6 L44.5 69.4 L46.0 69.1 L47.5 69.0 L49.0 68.8 L50.5 68.7 L52.0 68.7 L53.5 68.7 L55.0 68.8 L56.5 69.0 L58.0 69.3 L59.5 69.6 L61.0 69.9 L62.5 70.2 L64.0 70.6 L65.5 71.0 L67.0 71.3 L68.5 71.7 L70.0 72.1 L71.5 72.4 L73.0 72.8 L74.5 73.2 L76.0 73.6 L77.5 74.0 L79.0 74.4 L80.5 74.9 L82.0 75.3 L83.5 75.8 L85.0 76.3 L86.5 76.8 L88.0 77.4 L89.5 78.0 L91.0 78.6 L92.5 79.3 L94.0 80.0 L95.5 80.7 L97.0 81.5 L98.5 82.3 L100.0 83.2 L101.5 84.2 L103.0 85.3 L104.5 86.5 L106.0 87.7 L107.5 89.0 L109.0 90.3 L110.5 91.7 L112.0 93.1 L113.5 94.5 L115.0 95.9 L116.5 97.2 L118.0 98.4 L119.5 99.6 L121.0 100.7 L122.5 101.7 L124.0 102.6 L125.5 103.5 L127.0 104.3 L128.5 105.1 L130.0 105.8 L131.5 106.5 L133.0 107.2 L134.5 107.8 L136.0 108.5 L137.5 109.2 L139.0 109.9 L140.5 110.5 L142.0 111.2 L143.5 111.8 L145.0 112.3 L146.5 112.8 L148.0 113.2 L149.5 113.4 L151.0 113.5 L152.5 113.5 L154.0 113.3 L155.5 113.1 L157.0 112.7 L158.5 112.4 L160.0 112.0 L161.5 111.8 L163.0 111.7 L164.5 111.7 L166.0 111.8 L167.5 112.1 L169.0 112.5 L170.5 113.0 L172.0 113.6 L173.5 114.3 L175.0 115.1 L176.5 115.9 L178.0 116.8 L179.5 117.7 L181.0 118.7 L182.5 119.7 L184.0 120.7 L185.5 121.7 L187.0 122.8 L188.5 123.8 L190.0 124.8 L191.5 125.8 L193.0 126.7 L194.5 127.6 L196.0 128.4 L197.5 129.2 L199.0 129.8 L200.5 130.4 L202.0 130.9 L203.5 131.4 L205.0 131.9 L206.5 132.3 L208.0 132.7 L209.5 133.0 L211.0 133.4 L212.5 133.7 L214.0 134.0 L215.5 134.2 L217.0 134.5 L218.5 134.7 L220.0 134.9 L221.5 135.1 L223.0 135.3 L224.5 135.5 L226.0 135.6 L227.5 135.8 L229.0 135.9 L230.5 135.9 L232.0 136.0 L233.5 136.0 L235.0 135.9 L236.5 135.7 L238.0 135.5 L239.5 135.2 L241.0 134.9 L242.5 134.4 L244.0 133.9 L245.5 133.3 L247.0 132.7 L248.5 132.0 L250.0 131.4 L251.5 130.7 L253.0 130.0 L254.5 129.4 L256.0 128.7 L257.5 128.1 L259.0 127.6 L260.5 127.0 L262.0 126.5 L263.5 126.1 L265.0 125.7 L266.5 125.3 L268.0 125.0 L269.5 124.7 L271.0 124.5 L272.5 124.3 L274.0 124.2 L275.5 124.1 L277.0 124.1 L278.5 124.0 L280.0 124.0 L281.5 124.0 L283.0 123.9 L284.5 123.8 L286.0 123.6 L287.5 123.3 L289.0 123.1 L290.5 122.8 L292.0 122.4 L293.5 122.1 L295.0 121.7 L296.5 121.2 L298.0 120.8 L299.5 120.2 L301.0 119.7 L302.5 119.1 L304.0 118.4 L305.5 117.7 L307.0 116.9 L308.5 116.0 L310.0 115.1 L311.5 114.2 L313.0 113.1 L314.5 112.0 L316.0 110.9 L317.5 109.6 L319.0 108.3 L320.5 106.9 L322.0 105.5 L323.5 104.1 L325.0 102.6 L326.5 101.2 L328.0 99.8 L329.5 98.5 L331.0 97.2 L332.5 96.0 L334.0 94.9 L335.5 93.9 L337.0 93.0 L338.5 92.2 L340.0 91.4 L341.5 90.8 L343.0 90.2 L344.5 89.6 L346.0 89.2 L347.5 88.8 L349.0 88.5 L350.5 88.3 L352.0 88.1 L353.5 88.1 L355.0 88.1 L356.5 88.2 L358.0 88.3 L359.5 88.5 L361.0 88.6 L362.5 88.8 L364.0 88.9 L365.5 88.9 L367.0 88.9 L368.5 88.8 L370.0 88.7 L371.5 88.5 L373.0 88.3 L374.5 88.2 L376.0 88.1 L377.5 88.0 L379.0 87.9 L380.5 87.9 L382.0 87.9 L383.5 87.9 L385.0 87.9 L386.5 88.0 L388.0 88.0 L389.5 88.1 L391.0 88.1 L392.5 88.1 L394.0 88.1 L395.5 88.1 L397.0 88.1 L398.5 88.1 L400.0 88.1 L401.5 88.0 L403.0 88.1 L404.5 88.1 L406.0 88.2 L407.5 88.3 L409.0 88.5 L410.5 88.7 L412.0 89.0 L413.5 89.4 L415.0 89.9 L416.5 90.4 L418.0 91.0 L419.5 91.6 L421.0 92.4 L422.5 93.2 L424.0 94.0 L425.5 94.8 L427.0 95.6 L428.5 96.4 L430.0 97.2 L431.5 98.0 L433.0 98.8 L434.5 99.5 L436.0 100.2 L437.5 100.9 L439.0 101.5 L440.5 102.2 L442.0 102.8 L443.5 103.4 L445.0 104.0 L446.5 104.6 L448.0 105.2 L449.5 105.9 L451.0 106.5 L452.5 107.2 L454.0 108.0 L455.5 108.7 L457.0 109.6 L458.5 110.5 L460.0 111.4 L461.5 112.3 L463.0 113.2 L464.5 114.1 L466.0 115.0 L467.5 115.9 L469.0 116.8 L470.5 117.6 L472.0 118.5 L473.5 119.3 L475.0 120.2 L476.5 121.1 L478.0 122.0 L479.5 123.1 L481.0 124.4 L482.5 126.0 L484.0 127.9 L485.5 130.2 L487.0 132.9 L488.5 136.0 L490.0 139.4 L491.5 142.9 L493.0 146.6 L494.5 150.2 L496.0 153.7 L497.5 157.1 L499.0 160.3 L500.5 163.3 L502.0 166.3 L503.5 169.1 L505.0 171.9 L506.5 174.7 L508.0 177.5 L509.5 180.1 L511.0 182.6 L512.5 185.0 L514.0 187.2 L515.5 189.2 L517.0 190.9 L518.5 192.4 L520.0 193.7 L521.5 194.7 L523.0 195.5 L524.5 196.1 L526.0 196.5 L527.5 196.7 L529.0 196.7 L530.5 196.7 L532.0 196.5 L533.5 196.3 L535.0 196.0 L536.5 195.7 L538.0 195.4 L539.5 195.1 L541.0 194.8 L542.5 194.6 L544.0 194.4 L545.5 194.3 L547.0 194.3 L548.5 194.4 L550.0 194.5 L551.5 194.8 L553.0 195.3 L554.5 195.8 L556.0 196.4 L557.5 197.1 L559.0 197.8 L560.5 198.5 L562.0 199.3 L563.5 200.0 L565.0 200.7 L566.5 201.4 L568.0 202.1 L569.5 202.8 L571.0 203.4 L572.5 203.9 L574.0 204.5 L575.5 205.0 L577.0 205.6 L578.5 206.1 L580.0 206.7 L581.5 207.3 L583.0 208.0 L584.5 208.6 L586.0 209.4 L587.5 210.1 L589.0 211.0 L590.5 211.8 L592.0 212.7 L593.5 213.7 L595.0 214.7 L596.5 215.8 L598.0 216.9 L599.5 218.0 L601.0 219.2 L602.5 220.4 L604.0 221.6 L605.5 222.9 L607.0 224.1 L608.5 225.3 L610.0 226.5 L611.5 227.7 L613.0 228.8 L614.5 230.0 L616.0 231.1 L617.5 232.2 L619.0 233.4 L620.5 234.5 L622.0 235.6 L623.5 236.6 L625.0 237.6 L626.5 238.6 L628.0 239.5 L629.5 240.4 L631.0 241.1 L632.5 241.8 L634.0 242.4 L635.5 242.9 L637.0 243.3 L638.5 243.6 L640.0 243.8 L641.5 244.0 L643.0 244.1 L644.5 244.2 L646.0 244.2 L647.5 244.2 L649.0 244.2 L650.5 244.2 L652.0 244.1 L653.5 244.0 L655.0 243.9 L656.5 243.8 L658.0 243.6 L659.5 243.5 L661.0 243.3 L662.5 243.0 L664.0 242.8 L665.5 242.4 L667.0 242.1 L668.5 241.7 L670.0 241.2 L671.5 240.7 L673.0 240.1 L674.5 239.4 L676.0 238.7 L677.5 237.9 L679.0 237.1 L680.5 236.3 L682.0 235.4 L683.5 234.5 L685.0 233.6 L686.5 232.7 L688.0 231.8 L689.5 231.0 L691.0 230.2 L692.5 229.5 L694.0 228.9 L695.5 228.3 L697.0 227.8 L698.5 227.5 L700.0 227.2 L701.5 227.0 L703.0 226.8 L704.5 226.8 L706.0 226.8 L707.5 226.8 L709.0 226.9 L710.5 227.1 L712.0 227.3 L713.5 227.5 L715.0 227.8 L716.5 228.1 L718.0 228.4 L719.5 228.8 L721.0 229.2 L722.5 229.6 L724.0 230.0 L725.5 230.5 L727.0 230.9 L728.5 231.3 L730.0 231.7 L731.5 232.1 L733.0 232.5 L734.5 232.8 L736.0 233.1 L737.5 233.4 L739.0 233.6 L740.5 233.8 L742.0 233.9 L743.5 234.0 L745.0 234.1 L746.5 234.2 L748.0 234.2 L749.5 234.2 L751.0 234.1 L752.5 234.0 L754.0 233.9 L755.5 233.6 L757.0 233.3 L758.5 233.0 L760.0 232.5 L761.5 231.9 L763.0 231.3 L764.5 230.5 L766.0 229.7 L767.5 228.9 L769.0 228.0 L770.5 227.0 L772.0 226.0 L773.5 225.0 L775.0 223.9 L776.5 222.8 L778.0 221.6 L779.5 220.4 L781.0 219.2 L782.5 217.9 L784.0 216.6 L785.5 215.3 L787.0 214.0 L788.5 212.7 L790.0 211.4 L791.5 210.2 L793.0 208.9 L794.5 207.7 L796.0 206.5 L797.5 205.3 L799.0 204.2 L800.5 203.0 L802.0 201.9 L803.5 200.9 L805.0 199.8 L806.5 198.7 L808.0 197.7 L809.5 196.7 L811.0 195.8 L812.5 194.8 L814.0 193.9 L815.5 193.1 L817.0 192.2 L818.5 191.5 L820.0 190.7 L821.5 190.0 L823.0 189.4 L824.5 188.7 L826.0 188.1 L827.5 187.6 L829.0 187.1 L830.5 186.6 L832.0 186.1 L833.5 185.7 L835.0 185.3 L836.5 184.9 L838.0 184.6 L839.5 184.3 L841.0 184.0 L842.5 183.7 L844.0 183.5 L845.5 183.3 L847.0 183.1 L848.5 182.9 L850.0 182.8 L851.5 182.7 L853.0 182.5 L854.5 182.4 L856.0 182.3 L857.5 182.2 L859.0 182.1 L860.5 182.1 L862.0 182.1 L863.5 182.1 L865.0 182.2 L866.5 182.3 L868.0 182.5 L869.5 182.7 L871.0 183.0 L872.5 183.3 L874.0 183.7 L875.5 184.1 L877.0 184.6 L878.5 185.1 L880.0 185.7 L881.5 186.5 L883.0 187.4 L884.5 188.4 L886.0 189.6 L887.5 190.9 L889.0 192.2 L890.5 193.6 L892.0 195.0 L893.5 196.3 L895.0 197.5 L896.5 198.5 L898.0 199.4 L899.5 200.1 L901.0 200.7 L902.5 201.1" stroke="#df807b"/>
</g>
<rect x="323.2" y="3" width="223.3" height="436.8" fill="#f6c17c" fill-opacity="0.39"/>
<g stroke="#f0a24a" stroke-width="1.15" stroke-opacity="0.9"><line x1="323.2" x2="546.5" y1="60.5" y2="60.5"/><line x1="323.2" x2="546.5" y1="141.6" y2="141.6"/><line x1="323.2" x2="546.5" y1="205.3" y2="205.3"/><line x1="323.2" x2="546.5" y1="250.0" y2="250.0"/><line x1="323.2" x2="546.5" y1="294.8" y2="294.8"/><line x1="323.2" x2="546.5" y1="350.1" y2="350.1"/><line x1="323.2" x2="546.5" y1="439.6" y2="439.6"/></g>
<g font-family="Liberation Sans, sans-serif" font-size="11.5" fill="#e8a94f" letter-spacing="0.25"><text x="553.3" y="64.7">1 (3.10367)</text><text x="553.3" y="145.8">0.786 (2.77914)</text><text x="553.3" y="209.5">0.618 (2.52436)</text><text x="553.3" y="254.2">0.5 (2.34542)</text><text x="553.3" y="299.0">0.382 (2.16647)</text><text x="553.3" y="354.3">0.236 (1.94506)</text><text x="553.3" y="443.8">0 (1.58716)</text></g>
<g stroke-width="1"><line x1="-0.65" x2="-0.65" y1="71.5" y2="79.8" stroke="#000"/><line x1="2.73" x2="2.73" y1="70.9" y2="78.1" stroke="#74c0da"/><line x1="6.10" x2="6.10" y1="75.4" y2="83.6" stroke="#74c0da"/><line x1="9.48" x2="9.48" y1="77.0" y2="84.2" stroke="#000"/><line x1="12.85" x2="12.85" y1="77.6" y2="85.3" stroke="#74c0da"/><line x1="16.23" x2="16.23" y1="75.4" y2="85.3" stroke="#000"/><line x1="19.60" x2="19.60" y1="68.7" y2="88.6" stroke="#000"/><line x1="22.98" x2="22.98" y1="62.1" y2="84.2" stroke="#000"/><line x1="26.35" x2="26.35" y1="61.0" y2="69.3" stroke="#74c0da"/><line x1="29.73" x2="29.73" y1="62.7" y2="72.0" stroke="#000"/><line x1="33.10" x2="33.10" y1="61.0" y2="65.4" stroke="#000"/><line x1="36.48" x2="36.48" y1="61.5" y2="66.5" stroke="#74c0da"/><line x1="39.85" x2="39.85" y1="61.5" y2="66.0" stroke="#000"/><line x1="43.23" x2="43.23" y1="61.5" y2="69.0" stroke="#74c0da"/><line x1="46.60" x2="46.60" y1="62.7" y2="72.0" stroke="#74c0da"/><line x1="49.98" x2="49.98" y1="69.0" y2="77.0" stroke="#74c0da"/><line x1="53.35" x2="53.35" y1="73.7" y2="81.1" stroke="#74c0da"/><line x1="56.73" x2="56.73" y1="78.1" y2="87.0" stroke="#74c0da"/><line x1="60.10" x2="60.10" y1="82.0" y2="89.7" stroke="#74c0da"/><line x1="63.48" x2="63.48" y1="85.9" y2="90.3" stroke="#000"/><line x1="66.85" x2="66.85" y1="86.4" y2="90.6" stroke="#000"/><line x1="70.23" x2="70.23" y1="83.6" y2="89.5" stroke="#000"/><line x1="73.60" x2="73.60" y1="84.2" y2="90.8" stroke="#74c0da"/><line x1="76.98" x2="76.98" y1="86.4" y2="94.4" stroke="#000"/><line x1="80.35" x2="80.35" y1="87.0" y2="92.8" stroke="#74c0da"/><line x1="83.73" x2="83.73" y1="89.7" y2="93.6" stroke="#000"/><line x1="87.10" x2="87.10" y1="86.4" y2="93.0" stroke="#000"/><line x1="90.48" x2="90.48" y1="84.2" y2="89.7" stroke="#74c0da"/><line x1="93.85" x2="93.85" y1="87.0" y2="95.2" stroke="#74c0da"/><line x1="97.23" x2="97.23" y1="89.2" y2="93.3" stroke="#000"/><line x1="100.60" x2="100.60" y1="89.7" y2="97.7" stroke="#000"/><line x1="103.98" x2="103.98" y1="87.5" y2="93.9" stroke="#74c0da"/><line x1="107.35" x2="107.35" y1="91.2" y2="116.0" stroke="#74c0da"/><line x1="110.73" x2="110.73" y1="109.6" y2="162.1" stroke="#74c0da"/><line x1="114.10" x2="114.10" y1="130.8" y2="137.8" stroke="#000"/><line x1="117.48" x2="117.48" y1="117.9" y2="134.1" stroke="#000"/><line x1="120.85" x2="120.85" y1="119.4" y2="131.7" stroke="#74c0da"/><line x1="124.23" x2="124.23" y1="122.5" y2="131.7" stroke="#000"/><line x1="127.60" x2="127.60" y1="117.9" y2="134.8" stroke="#000"/><line x1="130.98" x2="130.98" y1="115.1" y2="126.2" stroke="#000"/><line x1="134.35" x2="134.35" y1="117.0" y2="123.8" stroke="#74c0da"/><line x1="137.73" x2="137.73" y1="115.1" y2="123.4" stroke="#000"/><line x1="141.10" x2="141.10" y1="112.4" y2="126.2" stroke="#74c0da"/><line x1="144.48" x2="144.48" y1="120.6" y2="131.7" stroke="#74c0da"/><line x1="147.85" x2="147.85" y1="125.2" y2="134.5" stroke="#74c0da"/><line x1="151.23" x2="151.23" y1="117.0" y2="138.5" stroke="#000"/><line x1="154.60" x2="154.60" y1="114.2" y2="119.4" stroke="#000"/><line x1="157.98" x2="157.98" y1="98.5" y2="117.5" stroke="#000"/><line x1="161.35" x2="161.35" y1="87.5" y2="103.1" stroke="#000"/><line x1="164.73" x2="164.73" y1="91.2" y2="105.0" stroke="#74c0da"/><line x1="168.10" x2="168.10" y1="100.4" y2="118.8" stroke="#74c0da"/><line x1="171.48" x2="171.48" y1="117.0" y2="127.1" stroke="#74c0da"/><line x1="174.85" x2="174.85" y1="121.6" y2="134.5" stroke="#74c0da"/><line x1="178.23" x2="178.23" y1="121.6" y2="139.1" stroke="#000"/><line x1="181.60" x2="181.60" y1="127.1" y2="154.3" stroke="#74c0da"/><line x1="184.98" x2="184.98" y1="142.7" y2="152.9" stroke="#74c0da"/><line x1="188.35" x2="188.35" y1="141.8" y2="151.0" stroke="#000"/><line x1="191.73" x2="191.73" y1="142.7" y2="151.0" stroke="#74c0da"/><line x1="195.10" x2="195.10" y1="142.7" y2="161.2" stroke="#74c0da"/><line x1="198.48" x2="198.48" y1="141.8" y2="160.6" stroke="#000"/><line x1="201.85" x2="201.85" y1="134.1" y2="152.9" stroke="#000"/><line x1="205.23" x2="205.23" y1="136.3" y2="142.7" stroke="#74c0da"/><line x1="208.60" x2="208.60" y1="139.1" y2="143.7" stroke="#000"/><line x1="211.98" x2="211.98" y1="136.7" y2="142.2" stroke="#74c0da"/><line x1="215.35" x2="215.35" y1="138.1" y2="145.5" stroke="#74c0da"/><line x1="218.73" x2="218.73" y1="138.5" y2="142.2" stroke="#000"/><line x1="222.10" x2="222.10" y1="137.2" y2="144.6" stroke="#000"/><line x1="225.48" x2="225.48" y1="129.3" y2="139.1" stroke="#000"/><line x1="228.85" x2="228.85" y1="132.6" y2="141.8" stroke="#74c0da"/><line x1="232.23" x2="232.23" y1="137.8" y2="142.2" stroke="#000"/><line x1="235.60" x2="235.60" y1="136.7" y2="143.3" stroke="#74c0da"/><line x1="238.98" x2="238.98" y1="132.6" y2="144.0" stroke="#000"/><line x1="242.35" x2="242.35" y1="127.5" y2="135.4" stroke="#000"/><line x1="245.73" x2="245.73" y1="119.4" y2="129.9" stroke="#000"/><line x1="249.10" x2="249.10" y1="115.1" y2="123.4" stroke="#74c0da"/><line x1="252.48" x2="252.48" y1="109.6" y2="124.9" stroke="#000"/><line x1="255.85" x2="255.85" y1="112.4" y2="122.5" stroke="#74c0da"/><line x1="259.23" x2="259.23" y1="104.1" y2="124.9" stroke="#000"/><line x1="262.60" x2="262.60" y1="111.4" y2="118.8" stroke="#000"/><line x1="265.98" x2="265.98" y1="107.8" y2="117.0" stroke="#74c0da"/><line x1="269.35" x2="269.35" y1="112.4" y2="117.9" stroke="#74c0da"/><line x1="272.73" x2="272.73" y1="109.6" y2="117.5" stroke="#74c0da"/><line x1="276.10" x2="276.10" y1="117.9" y2="125.2" stroke="#74c0da"/><line x1="279.48" x2="279.48" y1="122.5" y2="132.6" stroke="#74c0da"/><line x1="282.85" x2="282.85" y1="118.1" y2="132.0" stroke="#000"/><line x1="286.23" x2="286.23" y1="117.2" y2="127.3" stroke="#74c0da"/><line x1="289.60" x2="289.60" y1="122.7" y2="132.9" stroke="#74c0da"/><line x1="292.98" x2="292.98" y1="121.8" y2="132.0" stroke="#000"/><line x1="296.35" x2="296.35" y1="97.9" y2="123.7" stroke="#000"/><line x1="299.73" x2="299.73" y1="96.0" y2="103.4" stroke="#74c0da"/><line x1="303.10" x2="303.10" y1="95.1" y2="106.2" stroke="#000"/><line x1="306.48" x2="306.48" y1="96.0" y2="103.4" stroke="#74c0da"/><line x1="309.85" x2="309.85" y1="89.0" y2="100.6" stroke="#000"/><line x1="313.23" x2="313.23" y1="89.0" y2="97.0" stroke="#74c0da"/><line x1="316.60" x2="316.60" y1="86.8" y2="94.2" stroke="#74c0da"/><line x1="319.98" x2="319.98" y1="86.8" y2="99.7" stroke="#000"/><line x1="323.35" x2="323.35" y1="60.7" y2="88.7" stroke="#000"/><line x1="326.73" x2="326.73" y1="62.9" y2="79.5" stroke="#74c0da"/><line x1="330.10" x2="330.10" y1="75.8" y2="84.1" stroke="#74c0da"/><line x1="333.48" x2="333.48" y1="76.7" y2="81.7" stroke="#74c0da"/><line x1="336.85" x2="336.85" y1="74.9" y2="79.5" stroke="#74c0da"/><line x1="340.23" x2="340.23" y1="67.5" y2="86.5" stroke="#000"/><line x1="343.60" x2="343.60" y1="62.5" y2="80.4" stroke="#74c0da"/><line x1="346.98" x2="346.98" y1="71.7" y2="80.4" stroke="#000"/><line x1="350.35" x2="350.35" y1="73.0" y2="84.1" stroke="#74c0da"/><line x1="353.73" x2="353.73" y1="78.0" y2="82.8" stroke="#74c0da"/><line x1="357.10" x2="357.10" y1="79.5" y2="90.1" stroke="#74c0da"/><line x1="360.48" x2="360.48" y1="83.1" y2="100.6" stroke="#74c0da"/><line x1="363.85" x2="363.85" y1="96.0" y2="100.6" stroke="#000"/><line x1="367.23" x2="367.23" y1="92.4" y2="99.4" stroke="#000"/><line x1="370.60" x2="370.60" y1="79.5" y2="96.0" stroke="#000"/><line x1="373.98" x2="373.98" y1="69.3" y2="85.0" stroke="#000"/><line x1="377.35" x2="377.35" y1="67.5" y2="90.5" stroke="#74c0da"/><line x1="380.73" x2="380.73" y1="80.4" y2="91.4" stroke="#74c0da"/><line x1="384.10" x2="384.10" y1="82.2" y2="98.8" stroke="#74c0da"/><line x1="387.48" x2="387.48" y1="89.0" y2="98.8" stroke="#000"/><line x1="390.85" x2="390.85" y1="89.0" y2="97.0" stroke="#000"/><line x1="394.23" x2="394.23" y1="86.8" y2="95.7" stroke="#74c0da"/><line x1="397.60" x2="397.60" y1="84.1" y2="93.8" stroke="#000"/><line x1="400.98" x2="400.98" y1="75.8" y2="89.6" stroke="#000"/><line x1="404.35" x2="404.35" y1="73.6" y2="80.4" stroke="#74c0da"/><line x1="407.73" x2="407.73" y1="77.6" y2="90.1" stroke="#74c0da"/><line x1="411.10" x2="411.10" y1="85.9" y2="92.0" stroke="#74c0da"/><line x1="414.48" x2="414.48" y1="86.8" y2="95.1" stroke="#74c0da"/><line x1="417.85" x2="417.85" y1="90.5" y2="97.0" stroke="#74c0da"/><line x1="421.23" x2="421.23" y1="88.3" y2="117.2" stroke="#74c0da"/><line x1="424.60" x2="424.60" y1="109.9" y2="123.7" stroke="#74c0da"/><line x1="427.98" x2="427.98" y1="115.4" y2="123.7" stroke="#74c0da"/><line x1="431.35" x2="431.35" y1="116.3" y2="125.5" stroke="#74c0da"/><line x1="434.73" x2="434.73" y1="119.1" y2="127.7" stroke="#000"/><line x1="438.10" x2="438.10" y1="115.9" y2="122.2" stroke="#000"/><line x1="441.48" x2="441.48" y1="114.7" y2="123.0" stroke="#74c0da"/><line x1="444.85" x2="444.85" y1="104.6" y2="120.3" stroke="#000"/><line x1="448.23" x2="448.23" y1="107.4" y2="117.5" stroke="#74c0da"/><line x1="451.60" x2="451.60" y1="115.7" y2="126.7" stroke="#74c0da"/><line x1="454.98" x2="454.98" y1="123.0" y2="132.8" stroke="#74c0da"/><line x1="458.35" x2="458.35" y1="128.5" y2="139.6" stroke="#000"/><line x1="461.73" x2="461.73" y1="125.8" y2="138.7" stroke="#74c0da"/><line x1="465.10" x2="465.10" y1="132.2" y2="142.4" stroke="#74c0da"/><line x1="468.48" x2="468.48" y1="131.3" y2="139.6" stroke="#000"/><line x1="471.85" x2="471.85" y1="129.1" y2="136.8" stroke="#000"/><line x1="475.23" x2="475.23" y1="128.5" y2="135.9" stroke="#74c0da"/><line x1="478.60" x2="478.60" y1="128.5" y2="135.9" stroke="#000"/><line x1="481.98" x2="481.98" y1="126.7" y2="157.1" stroke="#74c0da"/><line x1="485.35" x2="485.35" y1="145.1" y2="176.4" stroke="#74c0da"/><line x1="489.23" x2="489.23" y1="137.0" y2="439.5" stroke="#74c0da"/><line x1="492.10" x2="492.10" y1="222.2" y2="263.1" stroke="#000"/><line x1="495.48" x2="495.48" y1="222.6" y2="238.3" stroke="#000"/><line x1="498.85" x2="498.85" y1="208.8" y2="234.6" stroke="#000"/><line x1="502.23" x2="502.23" y1="214.3" y2="231.8" stroke="#000"/><line x1="505.60" x2="505.60" y1="211.6" y2="241.0" stroke="#74c0da"/><line x1="508.98" x2="508.98" y1="231.8" y2="260.4" stroke="#74c0da"/><line x1="512.35" x2="512.35" y1="238.3" y2="257.6" stroke="#74c0da"/><line x1="515.73" x2="515.73" y1="235.1" y2="251.2" stroke="#000"/><line x1="519.10" x2="519.10" y1="233.7" y2="242.9" stroke="#000"/><line x1="522.48" x2="522.48" y1="207.9" y2="245.6" stroke="#000"/><line x1="525.85" x2="525.85" y1="196.8" y2="215.2" stroke="#000"/><line x1="529.23" x2="529.23" y1="190.4" y2="207.9" stroke="#74c0da"/><line x1="532.60" x2="532.60" y1="192.2" y2="207.0" stroke="#000"/><line x1="535.98" x2="535.98" y1="176.2" y2="202.4" stroke="#000"/><line x1="539.35" x2="539.35" y1="175.7" y2="201.4" stroke="#74c0da"/><line x1="542.73" x2="542.73" y1="181.2" y2="197.8" stroke="#000"/><line x1="546.10" x2="546.10" y1="176.2" y2="190.4" stroke="#000"/><line x1="549.48" x2="549.48" y1="174.4" y2="186.7" stroke="#74c0da"/><line x1="552.85" x2="552.85" y1="180.3" y2="196.8" stroke="#74c0da"/><line x1="556.23" x2="556.23" y1="195.0" y2="230.9" stroke="#74c0da"/><line x1="559.60" x2="559.60" y1="210.6" y2="224.5" stroke="#74c0da"/><line x1="562.98" x2="562.98" y1="211.2" y2="238.3" stroke="#000"/><line x1="566.35" x2="566.35" y1="210.3" y2="219.5" stroke="#74c0da"/><line x1="569.73" x2="569.73" y1="208.4" y2="216.7" stroke="#000"/><line x1="573.10" x2="573.10" y1="207.5" y2="214.9" stroke="#74c0da"/><line x1="576.48" x2="576.48" y1="205.7" y2="215.4" stroke="#000"/><line x1="579.85" x2="579.85" y1="199.2" y2="211.7" stroke="#74c0da"/><line x1="583.23" x2="583.23" y1="210.3" y2="229.0" stroke="#74c0da"/><line x1="586.60" x2="586.60" y1="224.1" y2="235.1" stroke="#74c0da"/><line x1="589.98" x2="589.98" y1="230.9" y2="241.6" stroke="#000"/><line x1="593.35" x2="593.35" y1="227.8" y2="235.7" stroke="#000"/><line x1="596.73" x2="596.73" y1="230.5" y2="236.0" stroke="#74c0da"/><line x1="600.10" x2="600.10" y1="221.7" y2="247.1" stroke="#000"/><line x1="603.48" x2="603.48" y1="220.4" y2="248.0" stroke="#74c0da"/><line x1="606.85" x2="606.85" y1="236.0" y2="257.8" stroke="#74c0da"/><line x1="610.23" x2="610.23" y1="246.2" y2="264.6" stroke="#74c0da"/><line x1="613.60" x2="613.60" y1="236.0" y2="255.9" stroke="#000"/><line x1="616.98" x2="616.98" y1="246.2" y2="278.0" stroke="#74c0da"/><line x1="620.35" x2="620.35" y1="262.7" y2="288.5" stroke="#000"/><line x1="623.73" x2="623.73" y1="260.9" y2="275.6" stroke="#000"/><line x1="627.10" x2="627.10" y1="253.5" y2="266.4" stroke="#74c0da"/><line x1="630.48" x2="630.48" y1="249.9" y2="263.7" stroke="#74c0da"/><line x1="633.85" x2="633.85" y1="250.4" y2="263.7" stroke="#000"/><line x1="637.23" x2="637.23" y1="242.5" y2="256.3" stroke="#000"/><line x1="640.60" x2="640.60" y1="241.2" y2="248.9" stroke="#000"/><line x1="643.98" x2="643.98" y1="238.3" y2="250.8" stroke="#74c0da"/><line x1="647.35" x2="647.35" y1="243.0" y2="252.6" stroke="#000"/><line x1="650.73" x2="650.73" y1="242.5" y2="248.9" stroke="#74c0da"/><line x1="654.10" x2="654.10" y1="243.8" y2="251.7" stroke="#000"/><line x1="657.48" x2="657.48" y1="243.8" y2="250.4" stroke="#74c0da"/><line x1="660.85" x2="660.85" y1="236.4" y2="255.9" stroke="#000"/><line x1="664.23" x2="664.23" y1="232.7" y2="245.2" stroke="#000"/><line x1="667.60" x2="667.60" y1="231.4" y2="238.8" stroke="#74c0da"/><line x1="670.98" x2="670.98" y1="233.3" y2="240.1" stroke="#74c0da"/><line x1="674.35" x2="674.35" y1="226.5" y2="247.5" stroke="#000"/><line x1="677.73" x2="677.73" y1="216.7" y2="228.3" stroke="#000"/><line x1="681.10" x2="681.10" y1="216.2" y2="223.5" stroke="#74c0da"/><line x1="684.48" x2="684.48" y1="215.4" y2="224.6" stroke="#000"/><line x1="687.85" x2="687.85" y1="198.3" y2="228.7" stroke="#000"/><line x1="691.23" x2="691.23" y1="202.9" y2="217.6" stroke="#74c0da"/><line x1="694.60" x2="694.60" y1="211.2" y2="224.1" stroke="#74c0da"/><line x1="697.98" x2="697.98" y1="222.2" y2="233.3" stroke="#74c0da"/><line x1="701.35" x2="701.35" y1="227.8" y2="235.1" stroke="#000"/><line x1="704.73" x2="704.73" y1="203.3" y2="233.8" stroke="#000"/><line x1="708.10" x2="708.10" y1="204.7" y2="213.9" stroke="#74c0da"/><line x1="711.48" x2="711.48" y1="211.2" y2="232.0" stroke="#74c0da"/><line x1="714.85" x2="714.85" y1="226.8" y2="234.2" stroke="#74c0da"/><line x1="718.23" x2="718.23" y1="227.8" y2="237.5" stroke="#74c0da"/><line x1="721.60" x2="721.60" y1="232.7" y2="244.3" stroke="#74c0da"/><line x1="724.98" x2="724.98" y1="232.0" y2="243.8" stroke="#000"/><line x1="728.35" x2="728.35" y1="234.2" y2="247.1" stroke="#74c0da"/><line x1="731.73" x2="731.73" y1="241.6" y2="254.1" stroke="#74c0da"/><line x1="735.10" x2="735.10" y1="232.3" y2="238.8" stroke="#74c0da"/><line x1="738.48" x2="738.48" y1="232.0" y2="242.5" stroke="#000"/><line x1="741.85" x2="741.85" y1="233.3" y2="240.6" stroke="#74c0da"/><line x1="745.23" x2="745.23" y1="231.4" y2="241.9" stroke="#000"/><line x1="748.60" x2="748.60" y1="230.1" y2="237.0" stroke="#74c0da"/><line x1="751.98" x2="751.98" y1="233.3" y2="251.7" stroke="#74c0da"/><line x1="755.35" x2="755.35" y1="233.3" y2="239.7" stroke="#000"/><line x1="758.73" x2="758.73" y1="224.1" y2="235.1" stroke="#000"/><line x1="762.10" x2="762.10" y1="220.4" y2="227.2" stroke="#000"/><line x1="765.48" x2="765.48" y1="208.0" y2="223.1" stroke="#000"/><line x1="768.85" x2="768.85" y1="208.4" y2="220.4" stroke="#000"/><line x1="772.23" x2="772.23" y1="207.5" y2="211.7" stroke="#000"/><line x1="775.60" x2="775.60" y1="196.4" y2="210.2" stroke="#000"/><line x1="778.98" x2="778.98" y1="193.7" y2="202.0" stroke="#000"/><line x1="782.35" x2="782.35" y1="193.7" y2="203.8" stroke="#000"/><line x1="785.73" x2="785.73" y1="181.2" y2="196.4" stroke="#000"/><line x1="789.10" x2="789.10" y1="173.4" y2="189.1" stroke="#000"/><line x1="792.48" x2="792.48" y1="180.8" y2="189.1" stroke="#74c0da"/><line x1="795.85" x2="795.85" y1="178.9" y2="188.5" stroke="#000"/><line x1="799.23" x2="799.23" y1="178.9" y2="187.2" stroke="#000"/><line x1="802.60" x2="802.60" y1="171.2" y2="182.6" stroke="#000"/><line x1="805.98" x2="805.98" y1="171.9" y2="178.0" stroke="#74c0da"/><line x1="809.35" x2="809.35" y1="175.3" y2="184.1" stroke="#74c0da"/><line x1="812.73" x2="812.73" y1="170.7" y2="186.3" stroke="#000"/><line x1="816.10" x2="816.10" y1="169.4" y2="179.9" stroke="#74c0da"/><line x1="819.48" x2="819.48" y1="167.5" y2="179.9" stroke="#74c0da"/><line x1="822.85" x2="822.85" y1="176.2" y2="184.5" stroke="#74c0da"/><line x1="826.23" x2="826.23" y1="170.7" y2="185.4" stroke="#000"/><line x1="829.60" x2="829.60" y1="162.0" y2="172.5" stroke="#000"/><line x1="832.98" x2="832.98" y1="168.8" y2="178.9" stroke="#74c0da"/><line x1="836.35" x2="836.35" y1="172.5" y2="183.5" stroke="#74c0da"/><line x1="839.73" x2="839.73" y1="170.7" y2="182.6" stroke="#000"/><line x1="843.10" x2="843.10" y1="168.8" y2="177.5" stroke="#000"/><line x1="846.48" x2="846.48" y1="164.2" y2="185.4" stroke="#74c0da"/><line x1="849.85" x2="849.85" y1="166.4" y2="182.6" stroke="#000"/><line x1="853.23" x2="853.23" y1="175.3" y2="194.0" stroke="#74c0da"/><line x1="856.60" x2="856.60" y1="179.9" y2="186.7" stroke="#000"/><line x1="859.98" x2="859.98" y1="176.7" y2="184.8" stroke="#000"/><line x1="863.35" x2="863.35" y1="170.7" y2="179.9" stroke="#000"/><line x1="866.73" x2="866.73" y1="170.7" y2="181.7" stroke="#74c0da"/><line x1="870.10" x2="870.10" y1="171.6" y2="202.0" stroke="#74c0da"/><line x1="873.48" x2="873.48" y1="184.5" y2="200.7" stroke="#74c0da"/><line x1="876.85" x2="876.85" y1="189.1" y2="203.8" stroke="#000"/><line x1="880.23" x2="880.23" y1="187.8" y2="213.6" stroke="#000"/><line x1="883.60" x2="883.60" y1="190.0" y2="201.0" stroke="#74c0da"/><line x1="886.98" x2="886.98" y1="198.8" y2="224.6" stroke="#74c0da"/><line x1="890.35" x2="890.35" y1="221.3" y2="241.2" stroke="#74c0da"/><line x1="893.73" x2="893.73" y1="226.5" y2="241.9" stroke="#000"/><line x1="897.10" x2="897.10" y1="210.2" y2="227.7" stroke="#000"/></g>
<g><rect x="-1.95" y="73.1" width="2.6" height="5.0" fill="#000"/><rect x="1.43" y="72.0" width="2.6" height="4.4" fill="#74c0da"/><rect x="4.80" y="76.5" width="2.6" height="5.5" fill="#74c0da"/><rect x="8.18" y="78.1" width="2.6" height="4.4" fill="#000"/><rect x="11.55" y="78.7" width="2.6" height="5.5" fill="#74c0da"/><rect x="14.93" y="76.5" width="2.6" height="7.7" fill="#000"/><rect x="18.30" y="77.6" width="2.6" height="4.4" fill="#000"/><rect x="21.68" y="64.9" width="2.6" height="16.0" fill="#000"/><rect x="25.05" y="62.1" width="2.6" height="5.5" fill="#74c0da"/><rect x="28.43" y="63.8" width="2.6" height="3.3" fill="#000"/><rect x="31.80" y="62.1" width="2.6" height="1.7" fill="#000"/><rect x="35.18" y="62.7" width="2.6" height="2.2" fill="#74c0da"/><rect x="38.55" y="62.7" width="2.6" height="1.9" fill="#000"/><rect x="41.93" y="62.7" width="2.6" height="5.0" fill="#74c0da"/><rect x="45.30" y="65.4" width="2.6" height="5.5" fill="#74c0da"/><rect x="48.68" y="69.8" width="2.6" height="5.5" fill="#74c0da"/><rect x="52.05" y="74.8" width="2.6" height="5.0" fill="#74c0da"/><rect x="55.43" y="79.2" width="2.6" height="6.1" fill="#74c0da"/><rect x="58.80" y="83.1" width="2.6" height="5.5" fill="#74c0da"/><rect x="62.18" y="87.0" width="2.6" height="2.8" fill="#000"/><rect x="65.55" y="87.5" width="2.6" height="2.2" fill="#000"/><rect x="68.93" y="84.2" width="2.6" height="4.4" fill="#000"/><rect x="72.30" y="84.8" width="2.6" height="5.0" fill="#74c0da"/><rect x="75.68" y="87.5" width="2.6" height="1.3" fill="#000"/><rect x="79.05" y="87.5" width="2.6" height="4.4" fill="#74c0da"/><rect x="82.43" y="90.3" width="2.6" height="2.2" fill="#000"/><rect x="85.80" y="87.0" width="2.6" height="5.0" fill="#000"/><rect x="89.18" y="84.8" width="2.6" height="3.9" fill="#74c0da"/><rect x="92.55" y="87.5" width="2.6" height="6.6" fill="#74c0da"/><rect x="95.93" y="90.3" width="2.6" height="1.7" fill="#000"/><rect x="99.30" y="90.3" width="2.6" height="1.1" fill="#000"/><rect x="102.68" y="88.4" width="2.6" height="4.6" fill="#74c0da"/><rect x="106.05" y="92.1" width="2.6" height="18.4" fill="#74c0da"/><rect x="109.43" y="110.5" width="2.6" height="23.9" fill="#74c0da"/><rect x="112.80" y="131.7" width="2.6" height="3.7" fill="#000"/><rect x="116.18" y="120.6" width="2.6" height="12.0" fill="#000"/><rect x="119.55" y="121.6" width="2.6" height="7.4" fill="#74c0da"/><rect x="122.93" y="123.4" width="2.6" height="4.6" fill="#000"/><rect x="126.30" y="120.6" width="2.6" height="2.8" fill="#000"/><rect x="129.68" y="118.8" width="2.6" height="1.8" fill="#000"/><rect x="133.05" y="118.3" width="2.6" height="4.2" fill="#74c0da"/><rect x="136.43" y="116.4" width="2.6" height="5.7" fill="#000"/><rect x="139.80" y="114.2" width="2.6" height="6.4" fill="#74c0da"/><rect x="143.18" y="122.1" width="2.6" height="8.7" fill="#74c0da"/><rect x="146.55" y="128.9" width="2.6" height="4.6" fill="#74c0da"/><rect x="149.93" y="117.5" width="2.6" height="16.0" fill="#000"/><rect x="153.30" y="115.7" width="2.6" height="2.6" fill="#000"/><rect x="156.68" y="100.4" width="2.6" height="16.0" fill="#000"/><rect x="160.05" y="91.2" width="2.6" height="10.1" fill="#000"/><rect x="163.43" y="91.7" width="2.6" height="12.3" fill="#74c0da"/><rect x="166.80" y="103.1" width="2.6" height="14.7" fill="#74c0da"/><rect x="170.18" y="117.5" width="2.6" height="7.7" fill="#74c0da"/><rect x="173.55" y="123.4" width="2.6" height="9.2" fill="#74c0da"/><rect x="176.93" y="128.0" width="2.6" height="5.5" fill="#000"/><rect x="180.30" y="128.0" width="2.6" height="21.2" fill="#74c0da"/><rect x="183.68" y="143.7" width="2.6" height="6.4" fill="#74c0da"/><rect x="187.05" y="145.1" width="2.6" height="5.0" fill="#000"/><rect x="190.43" y="143.7" width="2.6" height="6.4" fill="#74c0da"/><rect x="193.80" y="144.6" width="2.6" height="10.1" fill="#74c0da"/><rect x="197.18" y="152.0" width="2.6" height="2.8" fill="#000"/><rect x="200.55" y="137.8" width="2.6" height="14.7" fill="#000"/><rect x="203.93" y="138.1" width="2.6" height="2.8" fill="#74c0da"/><rect x="207.30" y="139.4" width="2.6" height="1.5" fill="#000"/><rect x="210.68" y="138.1" width="2.6" height="2.8" fill="#74c0da"/><rect x="214.05" y="139.6" width="2.6" height="2.2" fill="#74c0da"/><rect x="217.43" y="139.6" width="2.6" height="1.8" fill="#000"/><rect x="220.80" y="138.5" width="2.6" height="1.8" fill="#000"/><rect x="224.18" y="134.5" width="2.6" height="4.1" fill="#000"/><rect x="227.55" y="134.5" width="2.6" height="6.4" fill="#74c0da"/><rect x="230.93" y="138.5" width="2.6" height="2.9" fill="#000"/><rect x="234.30" y="138.5" width="2.6" height="3.7" fill="#74c0da"/><rect x="237.68" y="133.5" width="2.6" height="9.8" fill="#000"/><rect x="241.05" y="128.9" width="2.6" height="5.5" fill="#000"/><rect x="244.43" y="119.7" width="2.6" height="9.6" fill="#000"/><rect x="247.80" y="117.0" width="2.6" height="3.7" fill="#74c0da"/><rect x="251.18" y="115.1" width="2.6" height="6.1" fill="#000"/><rect x="254.55" y="114.2" width="2.6" height="7.4" fill="#74c0da"/><rect x="257.93" y="112.0" width="2.6" height="10.5" fill="#000"/><rect x="261.30" y="112.0" width="2.6" height="1.8" fill="#000"/><rect x="264.68" y="112.0" width="2.6" height="3.7" fill="#74c0da"/><rect x="268.05" y="113.8" width="2.6" height="2.2" fill="#74c0da"/><rect x="271.43" y="113.3" width="2.6" height="1.8" fill="#74c0da"/><rect x="274.80" y="118.3" width="2.6" height="6.1" fill="#74c0da"/><rect x="278.18" y="123.4" width="2.6" height="5.5" fill="#74c0da"/><rect x="281.55" y="119.6" width="2.6" height="9.9" fill="#000"/><rect x="284.93" y="119.1" width="2.6" height="6.4" fill="#74c0da"/><rect x="288.30" y="123.7" width="2.6" height="8.3" fill="#74c0da"/><rect x="291.68" y="122.7" width="2.6" height="8.7" fill="#000"/><rect x="295.05" y="99.4" width="2.6" height="23.9" fill="#000"/><rect x="298.43" y="97.5" width="2.6" height="3.1" fill="#74c0da"/><rect x="301.80" y="97.0" width="2.6" height="3.7" fill="#000"/><rect x="305.18" y="97.5" width="2.6" height="2.2" fill="#74c0da"/><rect x="308.55" y="92.7" width="2.6" height="7.4" fill="#000"/><rect x="311.93" y="91.4" width="2.6" height="2.8" fill="#74c0da"/><rect x="315.30" y="87.8" width="2.6" height="6.1" fill="#74c0da"/><rect x="318.68" y="87.8" width="2.6" height="6.1" fill="#000"/><rect x="322.05" y="62.9" width="2.6" height="24.9" fill="#000"/><rect x="325.43" y="63.3" width="2.6" height="14.4" fill="#74c0da"/><rect x="328.80" y="77.6" width="2.6" height="3.7" fill="#74c0da"/><rect x="332.18" y="77.6" width="2.6" height="2.8" fill="#74c0da"/><rect x="335.55" y="75.8" width="2.6" height="1.8" fill="#74c0da"/><rect x="338.93" y="68.0" width="2.6" height="9.2" fill="#000"/><rect x="342.30" y="67.5" width="2.6" height="10.1" fill="#74c0da"/><rect x="345.68" y="75.8" width="2.6" height="3.3" fill="#000"/><rect x="349.05" y="73.9" width="2.6" height="7.4" fill="#74c0da"/><rect x="352.43" y="79.1" width="2.6" height="2.6" fill="#74c0da"/><rect x="355.80" y="80.4" width="2.6" height="9.2" fill="#74c0da"/><rect x="359.18" y="84.1" width="2.6" height="15.7" fill="#74c0da"/><rect x="362.55" y="97.5" width="2.6" height="2.2" fill="#000"/><rect x="365.93" y="93.3" width="2.6" height="5.5" fill="#000"/><rect x="369.30" y="83.7" width="2.6" height="11.4" fill="#000"/><rect x="372.68" y="69.9" width="2.6" height="14.7" fill="#000"/><rect x="376.05" y="68.4" width="2.6" height="18.4" fill="#74c0da"/><rect x="379.43" y="81.3" width="2.6" height="6.4" fill="#74c0da"/><rect x="382.80" y="83.1" width="2.6" height="14.7" fill="#74c0da"/><rect x="386.18" y="94.2" width="2.6" height="4.1" fill="#000"/><rect x="389.55" y="90.9" width="2.6" height="3.7" fill="#000"/><rect x="392.93" y="87.8" width="2.6" height="6.4" fill="#74c0da"/><rect x="396.30" y="87.4" width="2.6" height="5.9" fill="#000"/><rect x="399.68" y="77.3" width="2.6" height="11.4" fill="#000"/><rect x="403.05" y="75.8" width="2.6" height="3.7" fill="#74c0da"/><rect x="406.43" y="78.5" width="2.6" height="10.1" fill="#74c0da"/><rect x="409.80" y="86.8" width="2.6" height="3.7" fill="#74c0da"/><rect x="413.18" y="87.8" width="2.6" height="6.4" fill="#74c0da"/><rect x="416.55" y="91.4" width="2.6" height="3.7" fill="#74c0da"/><rect x="419.93" y="89.6" width="2.6" height="26.7" fill="#74c0da"/><rect x="423.30" y="110.8" width="2.6" height="12.0" fill="#74c0da"/><rect x="426.68" y="117.2" width="2.6" height="5.5" fill="#74c0da"/><rect x="430.05" y="120.0" width="2.6" height="2.8" fill="#74c0da"/><rect x="433.43" y="120.9" width="2.6" height="4.6" fill="#000"/><rect x="436.80" y="116.7" width="2.6" height="4.8" fill="#000"/><rect x="440.18" y="115.7" width="2.6" height="5.5" fill="#74c0da"/><rect x="443.55" y="107.4" width="2.6" height="12.5" fill="#000"/><rect x="446.93" y="108.3" width="2.6" height="8.3" fill="#74c0da"/><rect x="450.30" y="116.2" width="2.6" height="8.7" fill="#74c0da"/><rect x="453.68" y="123.9" width="2.6" height="7.4" fill="#74c0da"/><rect x="457.05" y="129.1" width="2.6" height="3.7" fill="#000"/><rect x="460.43" y="127.6" width="2.6" height="7.4" fill="#74c0da"/><rect x="463.80" y="133.1" width="2.6" height="6.4" fill="#74c0da"/><rect x="467.18" y="133.1" width="2.6" height="5.9" fill="#000"/><rect x="470.55" y="132.2" width="2.6" height="3.7" fill="#000"/><rect x="473.93" y="130.4" width="2.6" height="4.6" fill="#74c0da"/><rect x="477.30" y="130.9" width="2.6" height="5.0" fill="#000"/><rect x="480.68" y="128.5" width="2.6" height="22.1" fill="#74c0da"/><rect x="484.05" y="148.8" width="2.6" height="19.3" fill="#74c0da"/><rect x="487.93" y="167.0" width="2.6" height="75.0" fill="#74c0da"/><rect x="490.80" y="235.5" width="2.6" height="7.4" fill="#000"/><rect x="494.18" y="232.7" width="2.6" height="4.2" fill="#000"/><rect x="497.55" y="217.1" width="2.6" height="16.6" fill="#000"/><rect x="500.93" y="214.3" width="2.6" height="1.0" fill="#000"/><rect x="504.30" y="214.3" width="2.6" height="20.3" fill="#74c0da"/><rect x="507.68" y="232.7" width="2.6" height="15.7" fill="#74c0da"/><rect x="511.05" y="239.2" width="2.6" height="12.9" fill="#74c0da"/><rect x="514.43" y="237.7" width="2.6" height="12.9" fill="#000"/><rect x="517.80" y="235.9" width="2.6" height="2.4" fill="#000"/><rect x="521.18" y="208.8" width="2.6" height="28.5" fill="#000"/><rect x="524.55" y="198.3" width="2.6" height="16.0" fill="#000"/><rect x="527.93" y="196.8" width="2.6" height="7.4" fill="#74c0da"/><rect x="531.30" y="197.8" width="2.6" height="6.4" fill="#000"/><rect x="534.68" y="180.3" width="2.6" height="18.4" fill="#000"/><rect x="538.05" y="178.4" width="2.6" height="17.5" fill="#74c0da"/><rect x="541.43" y="188.5" width="2.6" height="6.4" fill="#000"/><rect x="544.80" y="179.3" width="2.6" height="10.1" fill="#000"/><rect x="548.18" y="179.3" width="2.6" height="5.5" fill="#74c0da"/><rect x="551.55" y="182.1" width="2.6" height="12.9" fill="#74c0da"/><rect x="554.93" y="195.9" width="2.6" height="27.6" fill="#74c0da"/><rect x="558.30" y="211.6" width="2.6" height="12.0" fill="#74c0da"/><rect x="561.68" y="211.7" width="2.6" height="11.8" fill="#000"/><rect x="565.05" y="211.7" width="2.6" height="4.1" fill="#74c0da"/><rect x="568.43" y="209.3" width="2.6" height="6.4" fill="#000"/><rect x="571.80" y="209.3" width="2.6" height="3.7" fill="#74c0da"/><rect x="575.18" y="209.0" width="2.6" height="5.9" fill="#000"/><rect x="578.55" y="206.6" width="2.6" height="4.1" fill="#74c0da"/><rect x="581.93" y="211.7" width="2.6" height="16.0" fill="#74c0da"/><rect x="585.30" y="226.8" width="2.6" height="7.4" fill="#74c0da"/><rect x="588.68" y="232.7" width="2.6" height="1.8" fill="#000"/><rect x="592.05" y="232.0" width="2.6" height="2.2" fill="#000"/><rect x="595.43" y="231.4" width="2.6" height="3.7" fill="#74c0da"/><rect x="598.80" y="223.1" width="2.6" height="10.7" fill="#000"/><rect x="602.18" y="223.1" width="2.6" height="23.9" fill="#74c0da"/><rect x="605.55" y="237.0" width="2.6" height="16.6" fill="#74c0da"/><rect x="608.93" y="247.1" width="2.6" height="6.4" fill="#74c0da"/><rect x="612.30" y="247.1" width="2.6" height="7.4" fill="#000"/><rect x="615.68" y="247.1" width="2.6" height="30.4" fill="#74c0da"/><rect x="619.05" y="265.1" width="2.6" height="11.4" fill="#000"/><rect x="622.43" y="261.5" width="2.6" height="4.1" fill="#000"/><rect x="625.80" y="254.5" width="2.6" height="8.3" fill="#74c0da"/><rect x="629.18" y="250.8" width="2.6" height="7.4" fill="#74c0da"/><rect x="632.55" y="251.1" width="2.6" height="12.2" fill="#000"/><rect x="635.93" y="248.0" width="2.6" height="3.7" fill="#000"/><rect x="639.30" y="241.9" width="2.6" height="6.1" fill="#000"/><rect x="642.68" y="242.5" width="2.6" height="6.8" fill="#74c0da"/><rect x="646.05" y="243.8" width="2.6" height="5.2" fill="#000"/><rect x="649.43" y="243.8" width="2.6" height="3.3" fill="#74c0da"/><rect x="652.80" y="244.3" width="2.6" height="1.8" fill="#000"/><rect x="656.18" y="244.9" width="2.6" height="4.4" fill="#74c0da"/><rect x="659.55" y="242.5" width="2.6" height="7.4" fill="#000"/><rect x="662.93" y="236.0" width="2.6" height="7.4" fill="#000"/><rect x="666.30" y="233.3" width="2.6" height="3.7" fill="#74c0da"/><rect x="669.68" y="236.0" width="2.6" height="3.3" fill="#74c0da"/><rect x="673.05" y="227.2" width="2.6" height="12.5" fill="#000"/><rect x="676.43" y="218.5" width="2.6" height="9.2" fill="#000"/><rect x="679.80" y="218.5" width="2.6" height="3.7" fill="#74c0da"/><rect x="683.18" y="219.8" width="2.6" height="2.9" fill="#000"/><rect x="686.55" y="203.8" width="2.6" height="17.9" fill="#000"/><rect x="689.93" y="203.8" width="2.6" height="12.0" fill="#74c0da"/><rect x="693.30" y="212.1" width="2.6" height="11.0" fill="#74c0da"/><rect x="696.68" y="223.1" width="2.6" height="7.4" fill="#74c0da"/><rect x="700.05" y="228.3" width="2.6" height="1.8" fill="#000"/><rect x="703.43" y="204.7" width="2.6" height="23.9" fill="#000"/><rect x="706.80" y="205.7" width="2.6" height="7.4" fill="#74c0da"/><rect x="710.18" y="212.1" width="2.6" height="18.8" fill="#74c0da"/><rect x="713.55" y="227.8" width="2.6" height="5.0" fill="#74c0da"/><rect x="716.93" y="229.6" width="2.6" height="4.6" fill="#74c0da"/><rect x="720.30" y="234.2" width="2.6" height="4.1" fill="#74c0da"/><rect x="723.68" y="235.1" width="2.6" height="1.8" fill="#000"/><rect x="727.05" y="235.1" width="2.6" height="7.4" fill="#74c0da"/><rect x="730.43" y="242.5" width="2.6" height="3.7" fill="#74c0da"/><rect x="733.80" y="233.3" width="2.6" height="3.7" fill="#74c0da"/><rect x="737.18" y="233.3" width="2.6" height="8.3" fill="#000"/><rect x="740.55" y="234.2" width="2.6" height="5.5" fill="#74c0da"/><rect x="743.93" y="233.8" width="2.6" height="6.8" fill="#000"/><rect x="747.30" y="233.8" width="2.6" height="2.2" fill="#74c0da"/><rect x="750.68" y="234.2" width="2.6" height="5.5" fill="#74c0da"/><rect x="754.05" y="234.2" width="2.6" height="4.6" fill="#000"/><rect x="757.43" y="225.9" width="2.6" height="8.7" fill="#000"/><rect x="760.80" y="222.2" width="2.6" height="4.6" fill="#000"/><rect x="764.18" y="216.7" width="2.6" height="6.1" fill="#000"/><rect x="767.55" y="211.2" width="2.6" height="6.4" fill="#000"/><rect x="770.93" y="208.4" width="2.6" height="2.8" fill="#000"/><rect x="774.30" y="200.7" width="2.6" height="9.2" fill="#000"/><rect x="777.68" y="200.1" width="2.6" height="1.3" fill="#000"/><rect x="781.05" y="195.1" width="2.6" height="6.8" fill="#000"/><rect x="784.43" y="186.7" width="2.6" height="9.2" fill="#000"/><rect x="787.80" y="185.4" width="2.6" height="2.8" fill="#000"/><rect x="791.18" y="183.5" width="2.6" height="4.2" fill="#74c0da"/><rect x="794.55" y="184.1" width="2.6" height="4.1" fill="#000"/><rect x="797.93" y="179.9" width="2.6" height="6.4" fill="#000"/><rect x="801.30" y="173.4" width="2.6" height="7.4" fill="#000"/><rect x="804.68" y="173.4" width="2.6" height="3.7" fill="#74c0da"/><rect x="808.05" y="176.7" width="2.6" height="6.8" fill="#74c0da"/><rect x="811.43" y="175.3" width="2.6" height="8.8" fill="#000"/><rect x="814.80" y="174.3" width="2.6" height="4.6" fill="#74c0da"/><rect x="818.18" y="177.1" width="2.6" height="1.8" fill="#74c0da"/><rect x="821.55" y="177.1" width="2.6" height="2.8" fill="#74c0da"/><rect x="824.93" y="171.6" width="2.6" height="9.2" fill="#000"/><rect x="828.30" y="168.8" width="2.6" height="2.8" fill="#000"/><rect x="831.68" y="169.7" width="2.6" height="8.3" fill="#74c0da"/><rect x="835.05" y="173.4" width="2.6" height="4.6" fill="#74c0da"/><rect x="838.43" y="176.7" width="2.6" height="2.6" fill="#000"/><rect x="841.80" y="174.3" width="2.6" height="2.8" fill="#000"/><rect x="845.18" y="176.2" width="2.6" height="1.8" fill="#74c0da"/><rect x="848.55" y="175.3" width="2.6" height="3.3" fill="#000"/><rect x="851.93" y="176.2" width="2.6" height="9.2" fill="#74c0da"/><rect x="855.30" y="180.8" width="2.6" height="5.5" fill="#000"/><rect x="858.68" y="177.1" width="2.6" height="7.4" fill="#000"/><rect x="862.05" y="172.5" width="2.6" height="6.1" fill="#000"/><rect x="865.43" y="171.6" width="2.6" height="8.8" fill="#74c0da"/><rect x="868.80" y="179.9" width="2.6" height="10.1" fill="#74c0da"/><rect x="872.18" y="185.4" width="2.6" height="13.8" fill="#74c0da"/><rect x="875.55" y="191.5" width="2.6" height="8.1" fill="#000"/><rect x="878.93" y="189.1" width="2.6" height="2.8" fill="#000"/><rect x="882.30" y="190.9" width="2.6" height="9.2" fill="#74c0da"/><rect x="885.68" y="199.2" width="2.6" height="24.9" fill="#74c0da"/><rect x="889.05" y="222.2" width="2.6" height="18.4" fill="#74c0da"/><rect x="892.43" y="226.8" width="2.6" height="14.4" fill="#000"/><rect x="895.80" y="211.0" width="2.6" height="16.2" fill="#000"/></g>
<line x1="0" x2="940" y1="211.7" y2="211.7" stroke="#3a3a3a" stroke-width="1.1" stroke-dasharray="1.1 1.5"/>
</svg>
<div class="abs topbar"></div>
<div class="abs botbar"></div>

<!-- fib labels -->

<!-- legend row 1 -->
<div class="abs" style="left:0;top:8px;width:640px;height:21px;background:rgba(255,255,255,.55)"></div>
<svg class="abs" style="left:7.8px;top:9.5px" width="16.4" height="16.4" viewBox="0 0 18 18"><circle cx="9" cy="9" r="9" fill="#121418"/><path d="M4.2 4.2L9 8.6l4.8-4.4M4.2 13.8L9 9.4l4.8 4.4" fill="none" stroke="#f2f2f2" stroke-width="1.7" stroke-linejoin="round"/></svg>
<div class="abs" style="left:28px;top:9px;font-size:14.5px;line-height:18px;color:#1a1d26;white-space:nowrap;letter-spacing:-.3px">XRP / U.S. Dollar · 4h · Bitstamp</div>
<div class="abs" style="left:236.5px;top:10.5px;width:14px;height:14px;border-radius:50%;background:#d8eee6"></div>
<div class="abs" style="left:239.5px;top:13.5px;width:8px;height:8px;border-radius:50%;background:#4f9e86"></div>
<div class="abs ohlc" style="left:259px;color:#222">O</div><div class="abs ohlc" style="left:269px;color:#56a08a;letter-spacing:.55px">2.47481</div><div class="abs ohlc" style="left:321.5px;color:#222">H</div><div class="abs ohlc" style="left:331px;color:#56a08a;letter-spacing:.55px">2.49918</div><div class="abs ohlc" style="left:383.2px;color:#222">L</div><div class="abs ohlc" style="left:391px;color:#56a08a;letter-spacing:.55px">2.46565</div><div class="abs ohlc" style="left:444.5px;color:#222">C</div><div class="abs ohlc" style="left:454px;color:#56a08a;letter-spacing:.55px">2.49895</div><div class="abs ohlc" style="left:507px;color:#56a08a">+0.02368</div><div class="abs ohlc" style="left:566px;color:#56a08a;letter-spacing:0">(+0.96%)</div>

<!-- sell / buy -->
<div class="abs" style="left:4px;top:30px;width:190px;height:37px;background:rgba(255,255,255,.5)"></div>
<div class="abs" style="left:7px;top:32px;width:66.5px;height:30px;border:1px solid #d98a8a;border-radius:5px;background:rgba(255,255,255,.92);text-align:center;color:#d9606a">
 <div style="font-size:12px;line-height:14px;font-weight:bold;margin-top:1px;letter-spacing:.3px;margin-left:-1px">2.49894</div>
 <div style="font-size:10.5px;line-height:12px;letter-spacing:-.6px;margin-top:-1.3px;margin-left:-1.5px">SELL</div></div>
<div class="abs" style="left:80.5px;top:41.5px;font-size:10px;line-height:12px;color:#444;letter-spacing:.05px">0.00001</div>
<div class="abs" style="left:124.3px;top:32px;width:66.5px;height:30px;border:1px solid #5d7fe0;border-radius:5px;background:rgba(255,255,255,.92);text-align:center;color:#4c6fe0">
 <div style="font-size:12px;line-height:14px;font-weight:bold;margin-top:1px;letter-spacing:.3px;margin-left:-1px">2.49895</div>
 <div style="font-size:10.5px;line-height:12px;letter-spacing:-.3px;margin-top:-1.3px;margin-left:-.5px">BUY</div></div>

<!-- EMA legend -->
<div class="abs" style="left:4px;top:67px;width:332px;height:19.5px;background:rgba(255,255,255,.68)"></div>
<div class="abs" style="left:8px;top:69px;font-size:13px;line-height:16px;color:#222;white-space:nowrap"><span style="letter-spacing:-.15px">EMA 20/50/100/200</span><span class="ev" style="left:120.7px;color:#d9645f">2.53538</span><span class="ev" style="left:173px;color:#e89660">2.54276</span><span class="ev" style="left:225.7px;color:#a5e7f1">2.54948</span><span class="ev" style="left:278px;color:#5a6cdb">2.62152</span></div>
<div class="abs" style="left:7px;top:89px;width:26px;height:18px;border:1px solid #e3e5ea;border-radius:3px;background:rgba(255,255,255,.85)"></div>
<svg class="abs" style="left:14px;top:94px" width="12" height="8" viewBox="0 0 12 8"><path d="M1.5 6.5L6 2l4.5 4.5" fill="none" stroke="#222" stroke-width="1.4"/></svg>

<!-- price ticks -->
<div class="ptick" style="top:29px">3.20000</div>
<div class="ptick" style="top:79px">3.00000</div>
<div class="ptick" style="top:129px">2.80000</div>
<div class="ptick" style="top:229px">2.40000</div>
<div class="ptick" style="top:279px">2.20000</div>
<div class="ptick" style="top:329px">2.00000</div>
<div class="ptick" style="top:379px">1.80000</div>
<div class="ptick" style="top:429px">1.60000</div>
<!-- usd box overlay covers tick top -->
<div class="abs" style="left:943px;top:6px;width:56px;height:26.3px;background:#fff"></div>
<div class="abs" style="left:943.7px;top:7.1px;width:54.3px;height:22.3px;border:1px solid #ebecef;border-radius:4px;background:#fff"></div>
<div class="abs" style="left:946.8px;top:11px;font-size:11px;line-height:14px;color:#222;letter-spacing:-.7px">USD</div>
<svg class="abs" style="left:989.3px;top:16.3px" width="6.6" height="5" viewBox="0 0 8 6"><path d="M1 1.5l3 3 3-3" fill="none" stroke="#222" stroke-width="1.6"/></svg>

<!-- price labels -->
<div class="plabel" style="top:144.3px;background:#1e68ee;color:#fff">2.62152</div>
<div class="plabel" style="top:159.2px;background:#a2eef8;color:#14323a">2.54948</div>
<div class="plabel" style="top:174.1px;background:#ea8a3c;color:#fff">2.54276</div>
<div class="plabel" style="top:189px;background:#e3593a;color:#fff">2.53538</div>
<div class="plabel" style="top:204px;height:27px;width:58.5px;background:#111;color:#fff;border-radius:3px;padding-left:0;padding-right:1.5px"><div style="line-height:15.5px;height:14.5px">2.49895</div><div style="line-height:12px;color:#d0d0d0;letter-spacing:.15px">01:28:47</div></div>
<div class="abs" style="left:888.8px;top:204.5px;width:50px;height:14px;background:#111;color:#fff;font-size:11px;line-height:14px;text-align:center;border-radius:2.5px;letter-spacing:-.65px">XRPUSD</div>

<!-- TradingView logo -->
<svg class="abs" style="left:10.4px;top:454.6px" width="26.4" height="13" viewBox="0 0 36 18" preserveAspectRatio="none"><path d="M0 0h14v18H7V7H0z" fill="#16181d"/><circle cx="19.5" cy="3.6" r="3.6" fill="#16181d"/><path d="M28 0h8l-7.5 18h-8z" fill="#16181d"/></svg>
<div class="abs" style="left:44.2px;top:449.2px;font-size:18px;line-height:24px;font-weight:bold;color:#16181d">TradingView</div>

<!-- flag icon -->
<svg class="abs" style="left:888px;top:456px" width="32" height="26" viewBox="0 0 32 26">
 <circle cx="19.2" cy="12.5" r="9.2" fill="#fff" stroke="#d25a6c" stroke-width="1.3"/>
 <path d="M12.2 6.3A9.2 9.2 0 0 0 10.6 15.5" fill="none" stroke="#9a5ec8" stroke-width="1.3"/>
 <clipPath id="fc"><circle cx="19.2" cy="12.7" r="7"/></clipPath>
 <g clip-path="url(#fc)"><rect x="12" y="5" width="15" height="15" fill="#fff"/><rect x="12" y="5.6" width="15" height="1.9" fill="#e0505a"/><rect x="12" y="9.4" width="15" height="1.9" fill="#e0505a"/><rect x="12" y="13.2" width="15" height="1.6" fill="#fff"/><rect x="12" y="11.3" width="15" height="2.2" fill="#dc4a55"/><rect x="12" y="16.2" width="15" height="2.9" fill="#dc4a55"/><rect x="12" y="5" width="9.6" height="8.6" fill="#4a98ee"/></g>
 <path d="M6.5 11.8l1.1 3.1 3.1 1.1-3.1 1.1-1.1 3.1-1.1-3.1-3.1-1.1 3.1-1.1z" fill="#6a5cf0"/>
</svg>

<!-- time axis -->
<div class="tt" style="left:26px">18</div><div class="tt" style="left:87px">21</div><div class="tt" style="left:148px">24</div><div class="tt" style="left:208px">27</div>
<div class="tt" style="left:289px;font-weight:bold;font-size:11.2px">Oct</div>
<div class="tt" style="left:350px">4</div><div class="tt" style="left:411px">7</div><div class="tt" style="left:472px">10</div><div class="tt" style="left:533px">13</div><div class="tt" style="left:593px">16</div><div class="tt" style="left:654px">19</div><div class="tt" style="left:715px">22</div><div class="tt" style="left:775px">25</div><div class="tt" style="left:836px">28</div>
<div class="tt" style="left:917px;font-weight:bold;font-size:11.2px">Nov</div>
<svg class="abs" style="left:964.9px;top:486.9px" width="13.2" height="12.3" viewBox="0 0 15 14"><path d="M4 1.2h7L14.2 7 11 12.8H4L.8 7z" fill="none" stroke="#222" stroke-width="1.2"/><circle cx="7.5" cy="7" r="2" fill="none" stroke="#222" stroke-width="1.2"/></svg>

<!-- bottom toolbar -->
<div class="abs" style="left:0;top:505px;width:1000px;height:1px;background:#e8eaee"></div>
<div class="rb" style="left:13px">1D</div><div class="rb" style="left:40px">5D</div><div class="rb" style="left:68px">1M</div><div class="rb" style="left:97px">3M</div><div class="rb" style="left:125px">6M</div><div class="rb" style="left:155px">YTD</div><div class="rb" style="left:191px">1Y</div><div class="rb" style="left:216px">5Y</div><div class="rb" style="left:243px">All</div>
<div class="abs" style="left:266px;top:512px;width:1px;height:22px;background:#e4e6ea"></div>
<svg class="abs" style="left:278px;top:513px" width="19" height="19" viewBox="0 0 19 19"><path d="M4 3.5h11a2 2 0 0 1 2 2v9a2 2 0 0 1-2 2h-5M4 3.5a2 2 0 0 0-2 2V8M2 7h15M6 1.5v3.5M13 1.5v3.5M1 12.5h7M5.5 10l2.5 2.5-2.5 2.5" fill="none" stroke="#2a2a2a" stroke-width="1.15"/></svg>
<div class="rb" style="left:912px;font-size:13px;top:514.8px;letter-spacing:.05px">10:31:12 UTC</div>
</div></body></html>
